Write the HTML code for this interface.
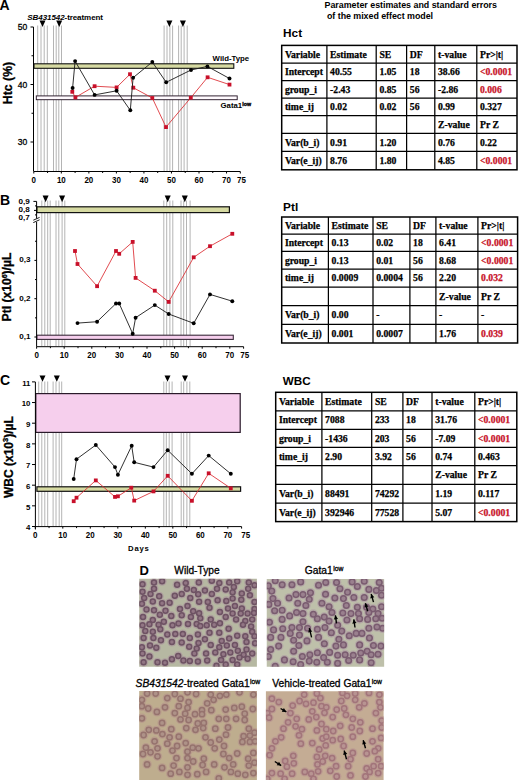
<!DOCTYPE html><html><head><meta charset="utf-8"><style>html,body{margin:0;padding:0;background:#fff;width:520px;height:780px;overflow:hidden}svg{display:block}</style></head><body>
<svg width="520" height="780" viewBox="0 0 520 780">
<defs><filter id="f" x="-5%" y="-5%" width="110%" height="110%"><feGaussianBlur stdDeviation="0.7"/></filter></defs>
<rect width="520" height="780" fill="#fff"/>
<text x="-0.5" y="9.6" font-size="14" font-weight="bold" text-anchor="start" fill="#000" font-family='"Liberation Sans", sans-serif' >A</text>
<text x="27.3" y="20.1" font-size="8.02" textLength="75.7" font-weight="bold" font-family='"Liberation Sans", sans-serif'><tspan font-style="italic">SB431542</tspan>-treatment</text>
<line x1="37.7" y1="25.5" x2="37.7" y2="171" stroke="#b4b4b4" stroke-width="1" />
<line x1="41.0" y1="25.5" x2="41.0" y2="171" stroke="#b4b4b4" stroke-width="1" />
<line x1="44.2" y1="25.5" x2="44.2" y2="171" stroke="#b4b4b4" stroke-width="1" />
<line x1="47.3" y1="25.5" x2="47.3" y2="171" stroke="#b4b4b4" stroke-width="1" />
<line x1="53.5" y1="25.5" x2="53.5" y2="171" stroke="#b4b4b4" stroke-width="1" />
<line x1="56.2" y1="25.5" x2="56.2" y2="171" stroke="#b4b4b4" stroke-width="1" />
<line x1="58.8" y1="25.5" x2="58.8" y2="171" stroke="#b4b4b4" stroke-width="1" />
<line x1="61.5" y1="25.5" x2="61.5" y2="171" stroke="#b4b4b4" stroke-width="1" />
<line x1="164.1" y1="25.5" x2="164.1" y2="171" stroke="#b4b4b4" stroke-width="1" />
<line x1="167.0" y1="25.5" x2="167.0" y2="171" stroke="#b4b4b4" stroke-width="1" />
<line x1="169.9" y1="25.5" x2="169.9" y2="171" stroke="#b4b4b4" stroke-width="1" />
<line x1="172.6" y1="25.5" x2="172.6" y2="171" stroke="#b4b4b4" stroke-width="1" />
<line x1="178.6" y1="25.5" x2="178.6" y2="171" stroke="#b4b4b4" stroke-width="1" />
<line x1="181.2" y1="25.5" x2="181.2" y2="171" stroke="#b4b4b4" stroke-width="1" />
<line x1="184.1" y1="25.5" x2="184.1" y2="171" stroke="#b4b4b4" stroke-width="1" />
<line x1="187.2" y1="25.5" x2="187.2" y2="171" stroke="#b4b4b4" stroke-width="1" />
<polygon points="39.5,20.4 45.5,20.4 42.5,27.0" fill="#000"/>
<polygon points="56.2,20.4 62.2,20.4 59.2,27.0" fill="#000"/>
<polygon points="166.4,20.4 172.4,20.4 169.4,27.0" fill="#000"/>
<polygon points="179.9,20.4 185.9,20.4 182.9,27.0" fill="#000"/>
<rect x="34" y="63.8" width="199.8" height="4.5" fill="#d6daa2" stroke="#111" stroke-width="1.1"/>
<rect x="36.3" y="95.9" width="200.89999999999998" height="3.799999999999997" fill="#fffafe" stroke="#2a1a2a" stroke-width="0.95"/>
<line x1="33.5" y1="27" x2="33.5" y2="171.5" stroke="#000" stroke-width="1" />
<line x1="30.5" y1="27.0" x2="33.5" y2="27.0" stroke="#000" stroke-width="1" />
<line x1="31.5" y1="55.75" x2="33.5" y2="55.75" stroke="#000" stroke-width="1" />
<line x1="30.5" y1="84.5" x2="33.5" y2="84.5" stroke="#000" stroke-width="1" />
<line x1="31.5" y1="113.25" x2="33.5" y2="113.25" stroke="#000" stroke-width="1" />
<line x1="30.5" y1="142.0" x2="33.5" y2="142.0" stroke="#000" stroke-width="1" />
<text transform="translate(27.2 30.00) scale(0.95 1)" font-size="9" text-anchor="end" font-family='"Liberation Sans", sans-serif' stroke="#000" stroke-width="0.3">50</text>
<text transform="translate(27.2 87.50) scale(0.95 1)" font-size="9" text-anchor="end" font-family='"Liberation Sans", sans-serif' stroke="#000" stroke-width="0.3">40</text>
<text transform="translate(27.2 145.00) scale(0.95 1)" font-size="9" text-anchor="end" font-family='"Liberation Sans", sans-serif' stroke="#000" stroke-width="0.3">30</text>
<line x1="33.8" y1="171.5" x2="240.3" y2="171.5" stroke="#000" stroke-width="1" />
<line x1="33.8" y1="171.5" x2="33.8" y2="173.5" stroke="#000" stroke-width="1" />
<line x1="47.56666666666666" y1="171.5" x2="47.56666666666666" y2="173.0" stroke="#000" stroke-width="1" />
<line x1="61.33333333333333" y1="171.5" x2="61.33333333333333" y2="173.5" stroke="#000" stroke-width="1" />
<line x1="75.1" y1="171.5" x2="75.1" y2="173.0" stroke="#000" stroke-width="1" />
<line x1="88.86666666666667" y1="171.5" x2="88.86666666666667" y2="173.5" stroke="#000" stroke-width="1" />
<line x1="102.63333333333333" y1="171.5" x2="102.63333333333333" y2="173.0" stroke="#000" stroke-width="1" />
<line x1="116.4" y1="171.5" x2="116.4" y2="173.5" stroke="#000" stroke-width="1" />
<line x1="130.16666666666669" y1="171.5" x2="130.16666666666669" y2="173.0" stroke="#000" stroke-width="1" />
<line x1="143.93333333333334" y1="171.5" x2="143.93333333333334" y2="173.5" stroke="#000" stroke-width="1" />
<line x1="157.7" y1="171.5" x2="157.7" y2="173.0" stroke="#000" stroke-width="1" />
<line x1="171.46666666666664" y1="171.5" x2="171.46666666666664" y2="173.5" stroke="#000" stroke-width="1" />
<line x1="185.23333333333335" y1="171.5" x2="185.23333333333335" y2="173.0" stroke="#000" stroke-width="1" />
<line x1="199.0" y1="171.5" x2="199.0" y2="173.5" stroke="#000" stroke-width="1" />
<line x1="212.76666666666665" y1="171.5" x2="212.76666666666665" y2="173.0" stroke="#000" stroke-width="1" />
<line x1="226.53333333333336" y1="171.5" x2="226.53333333333336" y2="173.5" stroke="#000" stroke-width="1" />
<line x1="240.3" y1="171.5" x2="240.3" y2="173.5" stroke="#000" stroke-width="1" />
<text transform="translate(33.80 182.8) scale(0.92 1)" font-size="8.7" font-weight="bold" text-anchor="middle" font-family='"Liberation Sans", sans-serif'>0</text>
<text transform="translate(61.33 182.8) scale(0.92 1)" font-size="8.7" font-weight="bold" text-anchor="middle" font-family='"Liberation Sans", sans-serif'>10</text>
<text transform="translate(88.87 182.8) scale(0.92 1)" font-size="8.7" font-weight="bold" text-anchor="middle" font-family='"Liberation Sans", sans-serif'>20</text>
<text transform="translate(116.40 182.8) scale(0.92 1)" font-size="8.7" font-weight="bold" text-anchor="middle" font-family='"Liberation Sans", sans-serif'>30</text>
<text transform="translate(143.93 182.8) scale(0.92 1)" font-size="8.7" font-weight="bold" text-anchor="middle" font-family='"Liberation Sans", sans-serif'>40</text>
<text transform="translate(171.47 182.8) scale(0.92 1)" font-size="8.7" font-weight="bold" text-anchor="middle" font-family='"Liberation Sans", sans-serif'>50</text>
<text transform="translate(199.00 182.8) scale(0.92 1)" font-size="8.7" font-weight="bold" text-anchor="middle" font-family='"Liberation Sans", sans-serif'>60</text>
<text transform="translate(226.53 182.8) scale(0.92 1)" font-size="8.7" font-weight="bold" text-anchor="middle" font-family='"Liberation Sans", sans-serif'>70</text>
<text transform="translate(241.50 183.20000000000002) scale(0.92 1)" font-size="8.7" font-weight="bold" text-anchor="middle" font-family='"Liberation Sans", sans-serif'>75</text>
<polyline points="72.3,91.8 75.4,97.4 94.6,86.2 116.6,87.4 130,74.2 133.3,87.7 152.3,98 166,127.1 190.8,97.7 207.6,77.3 229.5,84.6" fill="none" stroke="#dc2a30" stroke-width="0.85"/>
<rect x="70.40" y="89.90" width="3.8" height="3.8" fill="#c8102a"/>
<rect x="73.50" y="95.50" width="3.8" height="3.8" fill="#c8102a"/>
<rect x="92.70" y="84.30" width="3.8" height="3.8" fill="#c8102a"/>
<rect x="114.70" y="85.50" width="3.8" height="3.8" fill="#c8102a"/>
<rect x="128.10" y="72.30" width="3.8" height="3.8" fill="#c8102a"/>
<rect x="131.40" y="85.80" width="3.8" height="3.8" fill="#c8102a"/>
<rect x="150.40" y="96.10" width="3.8" height="3.8" fill="#c8102a"/>
<rect x="164.10" y="125.20" width="3.8" height="3.8" fill="#c8102a"/>
<rect x="188.90" y="95.80" width="3.8" height="3.8" fill="#c8102a"/>
<rect x="205.70" y="75.40" width="3.8" height="3.8" fill="#c8102a"/>
<rect x="227.60" y="82.70" width="3.8" height="3.8" fill="#c8102a"/>
<polyline points="72.6,88 75.1,61.1 94.6,94.9 116.6,90.8 130.3,110.3 133.1,77.7 152.3,62 166.2,82.3 191,70 207.4,66.4 229.5,78.5" fill="none" stroke="#1a1a1a" stroke-width="0.9"/>
<circle cx="72.6" cy="88" r="1.95" fill="#000"/>
<circle cx="75.1" cy="61.1" r="1.95" fill="#000"/>
<circle cx="94.6" cy="94.9" r="1.95" fill="#000"/>
<circle cx="116.6" cy="90.8" r="1.95" fill="#000"/>
<circle cx="130.3" cy="110.3" r="1.95" fill="#000"/>
<circle cx="133.1" cy="77.7" r="1.95" fill="#000"/>
<circle cx="152.3" cy="62" r="1.95" fill="#000"/>
<circle cx="166.2" cy="82.3" r="1.95" fill="#000"/>
<circle cx="191" cy="70" r="1.95" fill="#000"/>
<circle cx="207.4" cy="66.4" r="1.95" fill="#000"/>
<circle cx="229.5" cy="78.5" r="1.95" fill="#000"/>
<text x="212.6" y="61.1" font-size="7.8" font-weight="bold" text-anchor="start" fill="#000" font-family='"Liberation Sans", sans-serif' >Wild-Type</text>
<text x="220.5" y="107.5" font-size="7.8" font-weight="bold" font-family='"Liberation Sans", sans-serif'>Gata1<tspan font-size="5.3" dy="-1.8" dx="0.1" stroke="#000" stroke-width="0.35">low</tspan></text>
<text transform="translate(11.6,104.2) rotate(-90)" font-size="12.3" font-weight="bold" stroke="#000" stroke-width="0.3" font-family='"Liberation Sans", sans-serif'>Htc (%)</text>
<text x="0" y="204.8" font-size="14" font-weight="bold" text-anchor="start" fill="#000" font-family='"Liberation Sans", sans-serif' >B</text>
<line x1="41.8" y1="200.5" x2="41.8" y2="346" stroke="#b4b4b4" stroke-width="1" />
<line x1="44.8" y1="200.5" x2="44.8" y2="346" stroke="#b4b4b4" stroke-width="1" />
<line x1="47.7" y1="200.5" x2="47.7" y2="346" stroke="#b4b4b4" stroke-width="1" />
<line x1="50.2" y1="200.5" x2="50.2" y2="346" stroke="#b4b4b4" stroke-width="1" />
<line x1="56.0" y1="200.5" x2="56.0" y2="346" stroke="#b4b4b4" stroke-width="1" />
<line x1="58.8" y1="200.5" x2="58.8" y2="346" stroke="#b4b4b4" stroke-width="1" />
<line x1="62.1" y1="200.5" x2="62.1" y2="346" stroke="#b4b4b4" stroke-width="1" />
<line x1="64.8" y1="200.5" x2="64.8" y2="346" stroke="#b4b4b4" stroke-width="1" />
<line x1="163.8" y1="200.5" x2="163.8" y2="346" stroke="#b4b4b4" stroke-width="1" />
<line x1="166.7" y1="200.5" x2="166.7" y2="346" stroke="#b4b4b4" stroke-width="1" />
<line x1="169.9" y1="200.5" x2="169.9" y2="346" stroke="#b4b4b4" stroke-width="1" />
<line x1="172.8" y1="200.5" x2="172.8" y2="346" stroke="#b4b4b4" stroke-width="1" />
<line x1="181.0" y1="200.5" x2="181.0" y2="346" stroke="#b4b4b4" stroke-width="1" />
<line x1="183.7" y1="200.5" x2="183.7" y2="346" stroke="#b4b4b4" stroke-width="1" />
<line x1="186.5" y1="200.5" x2="186.5" y2="346" stroke="#b4b4b4" stroke-width="1" />
<line x1="190.1" y1="200.5" x2="190.1" y2="346" stroke="#b4b4b4" stroke-width="1" />
<polygon points="42.6,195.6 48.6,195.6 45.6,202.2" fill="#000"/>
<polygon points="59.1,195.6 65.1,195.6 62.1,202.2" fill="#000"/>
<polygon points="164.7,195.6 170.7,195.6 167.7,202.2" fill="#000"/>
<polygon points="181.8,195.6 187.8,195.6 184.8,202.2" fill="#000"/>
<rect x="36.9" y="206.8" width="192.5" height="5.799999999999983" fill="#d6daa2" stroke="#111" stroke-width="1.2"/>
<rect x="36.9" y="335.2" width="196.4" height="4.199999999999989" fill="#f6cfed" stroke="#3a2a3a" stroke-width="1.1"/>
<line x1="36.6" y1="201.4" x2="36.6" y2="218.5" stroke="#000" stroke-width="1" />
<line x1="36.6" y1="222" x2="36.6" y2="346.7" stroke="#000" stroke-width="1" />
<line x1="33.3" y1="220.2" x2="39.6" y2="217.4" stroke="#000" stroke-width="0.9" />
<line x1="33.3" y1="222.6" x2="39.6" y2="219.8" stroke="#000" stroke-width="0.9" />
<line x1="33.4" y1="201.4" x2="36.6" y2="201.4" stroke="#000" stroke-width="1" />
<line x1="34.0" y1="210.4" x2="36.6" y2="210.4" stroke="#000" stroke-width="1" />
<line x1="35.0" y1="205.9" x2="36.6" y2="205.9" stroke="#000" stroke-width="1" />
<line x1="35.0" y1="214.9" x2="36.6" y2="214.9" stroke="#000" stroke-width="1" />
<text x="18.6" y="203.5" font-size="6.9" font-weight="bold" font-family='"Liberation Sans", sans-serif' textLength="11.3" lengthAdjust="spacingAndGlyphs">0,9</text>
<text x="18.6" y="211.7" font-size="6.9" font-weight="bold" font-family='"Liberation Sans", sans-serif' textLength="11.3" lengthAdjust="spacingAndGlyphs">0,8</text>
<text x="18.6" y="220.2" font-size="6.9" font-weight="bold" font-family='"Liberation Sans", sans-serif' textLength="11.3" lengthAdjust="spacingAndGlyphs">0,7</text>
<line x1="35.0" y1="241.25" x2="36.6" y2="241.25" stroke="#000" stroke-width="1" />
<line x1="34.4" y1="260.4" x2="36.6" y2="260.4" stroke="#000" stroke-width="1" />
<line x1="35.0" y1="279.55" x2="36.6" y2="279.55" stroke="#000" stroke-width="1" />
<line x1="34.4" y1="298.7" x2="36.6" y2="298.7" stroke="#000" stroke-width="1" />
<line x1="35.0" y1="317.85" x2="36.6" y2="317.85" stroke="#000" stroke-width="1" />
<line x1="34.4" y1="337.0" x2="36.6" y2="337.0" stroke="#000" stroke-width="1" />
<text x="30.4" y="262.2" font-size="8.1" font-weight="bold" text-anchor="end" fill="#000" font-family='"Liberation Sans", sans-serif' >0,3</text>
<text x="30.4" y="300.5" font-size="8.1" font-weight="bold" text-anchor="end" fill="#000" font-family='"Liberation Sans", sans-serif' >0,2</text>
<text x="30.4" y="338.8" font-size="8.1" font-weight="bold" text-anchor="end" fill="#000" font-family='"Liberation Sans", sans-serif' >0,1</text>
<line x1="36.6" y1="346.7" x2="243.6" y2="346.7" stroke="#000" stroke-width="1" />
<line x1="36.6" y1="346.7" x2="36.6" y2="348.7" stroke="#000" stroke-width="1" />
<line x1="50.4" y1="346.7" x2="50.4" y2="348.2" stroke="#000" stroke-width="1" />
<line x1="64.2" y1="346.7" x2="64.2" y2="348.7" stroke="#000" stroke-width="1" />
<line x1="78.0" y1="346.7" x2="78.0" y2="348.2" stroke="#000" stroke-width="1" />
<line x1="91.8" y1="346.7" x2="91.8" y2="348.7" stroke="#000" stroke-width="1" />
<line x1="105.6" y1="346.7" x2="105.6" y2="348.2" stroke="#000" stroke-width="1" />
<line x1="119.4" y1="346.7" x2="119.4" y2="348.7" stroke="#000" stroke-width="1" />
<line x1="133.2" y1="346.7" x2="133.2" y2="348.2" stroke="#000" stroke-width="1" />
<line x1="147.0" y1="346.7" x2="147.0" y2="348.7" stroke="#000" stroke-width="1" />
<line x1="160.79999999999998" y1="346.7" x2="160.79999999999998" y2="348.2" stroke="#000" stroke-width="1" />
<line x1="174.6" y1="346.7" x2="174.6" y2="348.7" stroke="#000" stroke-width="1" />
<line x1="188.39999999999998" y1="346.7" x2="188.39999999999998" y2="348.2" stroke="#000" stroke-width="1" />
<line x1="202.2" y1="346.7" x2="202.2" y2="348.7" stroke="#000" stroke-width="1" />
<line x1="215.99999999999997" y1="346.7" x2="215.99999999999997" y2="348.2" stroke="#000" stroke-width="1" />
<line x1="229.79999999999998" y1="346.7" x2="229.79999999999998" y2="348.7" stroke="#000" stroke-width="1" />
<line x1="243.59999999999997" y1="346.7" x2="243.59999999999997" y2="348.7" stroke="#000" stroke-width="1" />
<text transform="translate(36.60 358.0) scale(0.92 1)" font-size="8.7" font-weight="bold" text-anchor="middle" font-family='"Liberation Sans", sans-serif'>0</text>
<text transform="translate(64.20 358.0) scale(0.92 1)" font-size="8.7" font-weight="bold" text-anchor="middle" font-family='"Liberation Sans", sans-serif'>10</text>
<text transform="translate(91.80 358.0) scale(0.92 1)" font-size="8.7" font-weight="bold" text-anchor="middle" font-family='"Liberation Sans", sans-serif'>20</text>
<text transform="translate(119.40 358.0) scale(0.92 1)" font-size="8.7" font-weight="bold" text-anchor="middle" font-family='"Liberation Sans", sans-serif'>30</text>
<text transform="translate(147.00 358.0) scale(0.92 1)" font-size="8.7" font-weight="bold" text-anchor="middle" font-family='"Liberation Sans", sans-serif'>40</text>
<text transform="translate(174.60 358.0) scale(0.92 1)" font-size="8.7" font-weight="bold" text-anchor="middle" font-family='"Liberation Sans", sans-serif'>50</text>
<text transform="translate(202.20 358.0) scale(0.92 1)" font-size="8.7" font-weight="bold" text-anchor="middle" font-family='"Liberation Sans", sans-serif'>60</text>
<text transform="translate(229.80 358.0) scale(0.92 1)" font-size="8.7" font-weight="bold" text-anchor="middle" font-family='"Liberation Sans", sans-serif'>70</text>
<text transform="translate(244.80 358.4) scale(0.92 1)" font-size="8.7" font-weight="bold" text-anchor="middle" font-family='"Liberation Sans", sans-serif'>75</text>
<polyline points="75,251 77.5,264 97.1,286.2 116,251 119.2,253.8 132.7,241.9 135.6,277.9 154.8,290.7 168.7,301.9 193.7,257.3 210,246.2 232.3,233.8" fill="none" stroke="#dc2a30" stroke-width="0.85"/>
<rect x="73.10" y="249.10" width="3.8" height="3.8" fill="#c8102a"/>
<rect x="75.60" y="262.10" width="3.8" height="3.8" fill="#c8102a"/>
<rect x="95.20" y="284.30" width="3.8" height="3.8" fill="#c8102a"/>
<rect x="114.10" y="249.10" width="3.8" height="3.8" fill="#c8102a"/>
<rect x="117.30" y="251.90" width="3.8" height="3.8" fill="#c8102a"/>
<rect x="130.80" y="240.00" width="3.8" height="3.8" fill="#c8102a"/>
<rect x="133.70" y="276.00" width="3.8" height="3.8" fill="#c8102a"/>
<rect x="152.90" y="288.80" width="3.8" height="3.8" fill="#c8102a"/>
<rect x="166.80" y="300.00" width="3.8" height="3.8" fill="#c8102a"/>
<rect x="191.80" y="255.40" width="3.8" height="3.8" fill="#c8102a"/>
<rect x="208.10" y="244.30" width="3.8" height="3.8" fill="#c8102a"/>
<rect x="230.40" y="231.90" width="3.8" height="3.8" fill="#c8102a"/>
<polyline points="77.5,323.1 97.1,321.7 116,303.5 119.2,303.5 132.7,333.7 135.6,317.7 154.8,305.1 168.7,314 193.7,323.3 210,294.4 232.3,301.2" fill="none" stroke="#1a1a1a" stroke-width="0.9"/>
<circle cx="77.5" cy="323.1" r="1.95" fill="#000"/>
<circle cx="97.1" cy="321.7" r="1.95" fill="#000"/>
<circle cx="116" cy="303.5" r="1.95" fill="#000"/>
<circle cx="119.2" cy="303.5" r="1.95" fill="#000"/>
<circle cx="132.7" cy="333.7" r="1.95" fill="#000"/>
<circle cx="135.6" cy="317.7" r="1.95" fill="#000"/>
<circle cx="154.8" cy="305.1" r="1.95" fill="#000"/>
<circle cx="168.7" cy="314" r="1.95" fill="#000"/>
<circle cx="193.7" cy="323.3" r="1.95" fill="#000"/>
<circle cx="210" cy="294.4" r="1.95" fill="#000"/>
<circle cx="232.3" cy="301.2" r="1.95" fill="#000"/>
<text transform="translate(11.2,321.4) rotate(-90)" font-size="12.1" font-weight="bold" stroke="#000" stroke-width="0.3" font-family='"Liberation Sans", sans-serif'>Ptl (x10<tspan font-size="7" dy="-4">6</tspan><tspan dy="4">)/µL</tspan></text>
<text x="0" y="385" font-size="14" font-weight="bold" text-anchor="start" fill="#000" font-family='"Liberation Sans", sans-serif' >C</text>
<line x1="38.7" y1="381.5" x2="38.7" y2="526.5" stroke="#b4b4b4" stroke-width="1" />
<line x1="41.8" y1="381.5" x2="41.8" y2="526.5" stroke="#b4b4b4" stroke-width="1" />
<line x1="44.8" y1="381.5" x2="44.8" y2="526.5" stroke="#b4b4b4" stroke-width="1" />
<line x1="47.7" y1="381.5" x2="47.7" y2="526.5" stroke="#b4b4b4" stroke-width="1" />
<line x1="53.1" y1="381.5" x2="53.1" y2="526.5" stroke="#b4b4b4" stroke-width="1" />
<line x1="56.0" y1="381.5" x2="56.0" y2="526.5" stroke="#b4b4b4" stroke-width="1" />
<line x1="59.2" y1="381.5" x2="59.2" y2="526.5" stroke="#b4b4b4" stroke-width="1" />
<line x1="61.7" y1="381.5" x2="61.7" y2="526.5" stroke="#b4b4b4" stroke-width="1" />
<line x1="163.8" y1="381.5" x2="163.8" y2="526.5" stroke="#b4b4b4" stroke-width="1" />
<line x1="166.3" y1="381.5" x2="166.3" y2="526.5" stroke="#b4b4b4" stroke-width="1" />
<line x1="169.2" y1="381.5" x2="169.2" y2="526.5" stroke="#b4b4b4" stroke-width="1" />
<line x1="172.1" y1="381.5" x2="172.1" y2="526.5" stroke="#b4b4b4" stroke-width="1" />
<line x1="181.2" y1="381.5" x2="181.2" y2="526.5" stroke="#b4b4b4" stroke-width="1" />
<line x1="183.7" y1="381.5" x2="183.7" y2="526.5" stroke="#b4b4b4" stroke-width="1" />
<line x1="186.9" y1="381.5" x2="186.9" y2="526.5" stroke="#b4b4b4" stroke-width="1" />
<line x1="189.8" y1="381.5" x2="189.8" y2="526.5" stroke="#b4b4b4" stroke-width="1" />
<polygon points="39.5,375.4 45.5,375.4 42.5,381.8" fill="#000"/>
<polygon points="53.8,375.4 59.8,375.4 56.8,381.8" fill="#000"/>
<polygon points="164.5,375.4 170.5,375.4 167.5,381.8" fill="#000"/>
<polygon points="182.0,375.4 188.0,375.4 185.0,381.8" fill="#000"/>
<rect x="35.8" y="393.6" width="204.39999999999998" height="38.799999999999955" fill="#f6cfed" stroke="#2a1a2a" stroke-width="1.2"/>
<rect x="36.9" y="486.8" width="203.7" height="4.5" fill="#d6daa2" stroke="#111" stroke-width="1.2"/>
<line x1="35.4" y1="382" x2="35.4" y2="529.5" stroke="#000" stroke-width="1" />
<line x1="32.0" y1="381.88" x2="35.4" y2="381.88" stroke="#000" stroke-width="1" />
<text x="30.4" y="385.58" font-size="7.8" font-weight="bold" text-anchor="end" fill="#000" font-family='"Liberation Sans", sans-serif' >11</text>
<line x1="32.0" y1="402.53999999999996" x2="35.4" y2="402.53999999999996" stroke="#000" stroke-width="1" />
<text x="30.4" y="406.23999999999995" font-size="7.8" font-weight="bold" text-anchor="end" fill="#000" font-family='"Liberation Sans", sans-serif' >10</text>
<line x1="32.0" y1="423.2" x2="35.4" y2="423.2" stroke="#000" stroke-width="1" />
<text x="30.4" y="426.9" font-size="7.8" font-weight="bold" text-anchor="end" fill="#000" font-family='"Liberation Sans", sans-serif' >9</text>
<line x1="32.0" y1="443.86" x2="35.4" y2="443.86" stroke="#000" stroke-width="1" />
<text x="30.4" y="447.56" font-size="7.8" font-weight="bold" text-anchor="end" fill="#000" font-family='"Liberation Sans", sans-serif' >8</text>
<line x1="32.0" y1="464.52" x2="35.4" y2="464.52" stroke="#000" stroke-width="1" />
<text x="30.4" y="468.21999999999997" font-size="7.8" font-weight="bold" text-anchor="end" fill="#000" font-family='"Liberation Sans", sans-serif' >7</text>
<line x1="32.0" y1="485.18" x2="35.4" y2="485.18" stroke="#000" stroke-width="1" />
<text x="30.4" y="488.88" font-size="7.8" font-weight="bold" text-anchor="end" fill="#000" font-family='"Liberation Sans", sans-serif' >6</text>
<line x1="32.0" y1="505.84" x2="35.4" y2="505.84" stroke="#000" stroke-width="1" />
<text x="30.4" y="509.53999999999996" font-size="7.8" font-weight="bold" text-anchor="end" fill="#000" font-family='"Liberation Sans", sans-serif' >5</text>
<line x1="32.0" y1="526.5" x2="35.4" y2="526.5" stroke="#000" stroke-width="1" />
<text x="30.4" y="530.2" font-size="7.8" font-weight="bold" text-anchor="end" fill="#000" font-family='"Liberation Sans", sans-serif' >4</text>
<line x1="35.3" y1="526.6" x2="241.6" y2="526.6" stroke="#000" stroke-width="1" />
<line x1="35.3" y1="526.6" x2="35.3" y2="528.6" stroke="#000" stroke-width="1" />
<line x1="49.053333333333335" y1="526.6" x2="49.053333333333335" y2="528.1" stroke="#000" stroke-width="1" />
<line x1="62.80666666666667" y1="526.6" x2="62.80666666666667" y2="528.6" stroke="#000" stroke-width="1" />
<line x1="76.56" y1="526.6" x2="76.56" y2="528.1" stroke="#000" stroke-width="1" />
<line x1="90.31333333333333" y1="526.6" x2="90.31333333333333" y2="528.6" stroke="#000" stroke-width="1" />
<line x1="104.06666666666668" y1="526.6" x2="104.06666666666668" y2="528.1" stroke="#000" stroke-width="1" />
<line x1="117.82000000000001" y1="526.6" x2="117.82000000000001" y2="528.6" stroke="#000" stroke-width="1" />
<line x1="131.57333333333332" y1="526.6" x2="131.57333333333332" y2="528.1" stroke="#000" stroke-width="1" />
<line x1="145.32666666666668" y1="526.6" x2="145.32666666666668" y2="528.6" stroke="#000" stroke-width="1" />
<line x1="159.08" y1="526.6" x2="159.08" y2="528.1" stroke="#000" stroke-width="1" />
<line x1="172.83333333333337" y1="526.6" x2="172.83333333333337" y2="528.6" stroke="#000" stroke-width="1" />
<line x1="186.5866666666667" y1="526.6" x2="186.5866666666667" y2="528.1" stroke="#000" stroke-width="1" />
<line x1="200.34000000000003" y1="526.6" x2="200.34000000000003" y2="528.6" stroke="#000" stroke-width="1" />
<line x1="214.09333333333336" y1="526.6" x2="214.09333333333336" y2="528.1" stroke="#000" stroke-width="1" />
<line x1="227.8466666666667" y1="526.6" x2="227.8466666666667" y2="528.6" stroke="#000" stroke-width="1" />
<line x1="241.60000000000002" y1="526.6" x2="241.60000000000002" y2="528.6" stroke="#000" stroke-width="1" />
<text transform="translate(35.30 537.8) scale(0.92 1)" font-size="8.7" font-weight="bold" text-anchor="middle" font-family='"Liberation Sans", sans-serif'>0</text>
<text transform="translate(62.81 537.8) scale(0.92 1)" font-size="8.7" font-weight="bold" text-anchor="middle" font-family='"Liberation Sans", sans-serif'>10</text>
<text transform="translate(90.31 537.8) scale(0.92 1)" font-size="8.7" font-weight="bold" text-anchor="middle" font-family='"Liberation Sans", sans-serif'>20</text>
<text transform="translate(117.82 537.8) scale(0.92 1)" font-size="8.7" font-weight="bold" text-anchor="middle" font-family='"Liberation Sans", sans-serif'>30</text>
<text transform="translate(145.33 537.8) scale(0.92 1)" font-size="8.7" font-weight="bold" text-anchor="middle" font-family='"Liberation Sans", sans-serif'>40</text>
<text transform="translate(172.83 537.8) scale(0.92 1)" font-size="8.7" font-weight="bold" text-anchor="middle" font-family='"Liberation Sans", sans-serif'>50</text>
<text transform="translate(200.34 537.8) scale(0.92 1)" font-size="8.7" font-weight="bold" text-anchor="middle" font-family='"Liberation Sans", sans-serif'>60</text>
<text transform="translate(227.85 537.8) scale(0.92 1)" font-size="8.7" font-weight="bold" text-anchor="middle" font-family='"Liberation Sans", sans-serif'>70</text>
<text transform="translate(245.80 538.1999999999999) scale(0.92 1)" font-size="8.7" font-weight="bold" text-anchor="middle" font-family='"Liberation Sans", sans-serif'>75</text>
<text x="128.1" y="550.9" font-size="7.7" font-weight="bold" font-family='"Liberation Sans", sans-serif' textLength="20.6">Days</text>
<polyline points="73.7,501.2 76.5,497.7 95.8,480.4 115,496.9 117.9,496.3 131.3,487.7 134.2,500.6 153.5,491.4 167.7,475.8 191.9,500.8 208.7,473.3 230.8,488.3" fill="none" stroke="#dc2a30" stroke-width="0.85"/>
<rect x="71.80" y="499.30" width="3.8" height="3.8" fill="#c8102a"/>
<rect x="74.60" y="495.80" width="3.8" height="3.8" fill="#c8102a"/>
<rect x="93.90" y="478.50" width="3.8" height="3.8" fill="#c8102a"/>
<rect x="113.10" y="495.00" width="3.8" height="3.8" fill="#c8102a"/>
<rect x="116.00" y="494.40" width="3.8" height="3.8" fill="#c8102a"/>
<rect x="129.40" y="485.80" width="3.8" height="3.8" fill="#c8102a"/>
<rect x="132.30" y="498.70" width="3.8" height="3.8" fill="#c8102a"/>
<rect x="151.60" y="489.50" width="3.8" height="3.8" fill="#c8102a"/>
<rect x="165.80" y="473.90" width="3.8" height="3.8" fill="#c8102a"/>
<rect x="190.00" y="498.90" width="3.8" height="3.8" fill="#c8102a"/>
<rect x="206.80" y="471.40" width="3.8" height="3.8" fill="#c8102a"/>
<rect x="228.90" y="486.40" width="3.8" height="3.8" fill="#c8102a"/>
<polyline points="73.7,479 76.5,459.2 95.8,445 115,467.1 117.9,474.8 131.7,445.8 134.2,462.3 153.5,467.1 167.7,450.2 191.9,473.8 208.7,455.6 230.8,473.8" fill="none" stroke="#1a1a1a" stroke-width="0.9"/>
<circle cx="73.7" cy="479" r="1.95" fill="#000"/>
<circle cx="76.5" cy="459.2" r="1.95" fill="#000"/>
<circle cx="95.8" cy="445" r="1.95" fill="#000"/>
<circle cx="115" cy="467.1" r="1.95" fill="#000"/>
<circle cx="117.9" cy="474.8" r="1.95" fill="#000"/>
<circle cx="131.7" cy="445.8" r="1.95" fill="#000"/>
<circle cx="134.2" cy="462.3" r="1.95" fill="#000"/>
<circle cx="153.5" cy="467.1" r="1.95" fill="#000"/>
<circle cx="167.7" cy="450.2" r="1.95" fill="#000"/>
<circle cx="191.9" cy="473.8" r="1.95" fill="#000"/>
<circle cx="208.7" cy="455.6" r="1.95" fill="#000"/>
<circle cx="230.8" cy="473.8" r="1.95" fill="#000"/>
<text transform="translate(12.8,498) rotate(-90)" font-size="12" font-weight="bold" stroke="#000" stroke-width="0.3" font-family='"Liberation Sans", sans-serif'>WBC (x10<tspan font-size="7.5" dy="-4.5">3</tspan><tspan dy="4.5">)/µL</tspan></text>
<text x="324.5" y="7.6" font-size="8.9" textLength="172.5" font-weight="bold" font-family='"Liberation Sans", sans-serif'>Parameter estimates and standard errors</text>
<text x="327" y="18.8" font-size="8.9" textLength="106" font-weight="bold" font-family='"Liberation Sans", sans-serif'>of the mixed effect model</text>
<text x="283.1" y="36.7" font-size="11.8" font-weight="bold" text-anchor="start" fill="#000" font-family='"Liberation Sans", sans-serif' >Hct</text>
<rect x="281.7" y="45.4" width="235.3" height="124.4" fill="none" stroke="#000" stroke-width="1.5"/>
<line x1="326.9" y1="45.4" x2="326.9" y2="169.8" stroke="#000" stroke-width="1.25" />
<line x1="376.2" y1="45.4" x2="376.2" y2="169.8" stroke="#000" stroke-width="1.25" />
<line x1="406.6" y1="45.4" x2="406.6" y2="169.8" stroke="#000" stroke-width="1.25" />
<line x1="434.8" y1="45.4" x2="434.8" y2="169.8" stroke="#000" stroke-width="1.25" />
<line x1="476.8" y1="45.4" x2="476.8" y2="169.8" stroke="#000" stroke-width="1.25" />
<line x1="281.7" y1="63.0" x2="517.0" y2="63.0" stroke="#000" stroke-width="1.25" />
<line x1="281.7" y1="80.6" x2="517.0" y2="80.6" stroke="#000" stroke-width="1.25" />
<line x1="281.7" y1="98.0" x2="517.0" y2="98.0" stroke="#000" stroke-width="1.25" />
<line x1="281.7" y1="115.6" x2="517.0" y2="115.6" stroke="#000" stroke-width="1.25" />
<line x1="281.7" y1="133.4" x2="517.0" y2="133.4" stroke="#000" stroke-width="1.25" />
<line x1="281.7" y1="151.4" x2="517.0" y2="151.4" stroke="#000" stroke-width="1.25" />
<text x="284.9" y="57.6" font-size="9.7" font-weight="bold" text-anchor="start" fill="#000" font-family='"Liberation Serif", serif' stroke="#000" stroke-width="0.25">Variable</text>
<text x="330.1" y="57.6" font-size="9.7" font-weight="bold" text-anchor="start" fill="#000" font-family='"Liberation Serif", serif' stroke="#000" stroke-width="0.25">Estimate</text>
<text x="379.4" y="57.6" font-size="9.7" font-weight="bold" text-anchor="start" fill="#000" font-family='"Liberation Serif", serif' stroke="#000" stroke-width="0.25">SE</text>
<text x="409.8" y="57.6" font-size="9.7" font-weight="bold" text-anchor="start" fill="#000" font-family='"Liberation Serif", serif' stroke="#000" stroke-width="0.25">DF</text>
<text x="438.0" y="57.6" font-size="9.7" font-weight="bold" text-anchor="start" fill="#000" font-family='"Liberation Serif", serif' stroke="#000" stroke-width="0.25">t-value</text>
<text x="480.0" y="57.6" font-size="9.7" font-weight="bold" text-anchor="start" fill="#000" font-family='"Liberation Serif", serif' stroke="#000" stroke-width="0.25">Pr&gt;|t|</text>
<text x="284.9" y="75.2" font-size="9.7" font-weight="bold" text-anchor="start" fill="#000" font-family='"Liberation Serif", serif' stroke="#000" stroke-width="0.25">Intercept</text>
<text x="330.1" y="75.2" font-size="9.7" font-weight="bold" text-anchor="start" fill="#000" font-family='"Liberation Serif", serif' stroke="#000" stroke-width="0.25">40.55</text>
<text x="379.4" y="75.2" font-size="9.7" font-weight="bold" text-anchor="start" fill="#000" font-family='"Liberation Serif", serif' stroke="#000" stroke-width="0.25">1.05</text>
<text x="409.8" y="75.2" font-size="9.7" font-weight="bold" text-anchor="start" fill="#000" font-family='"Liberation Serif", serif' stroke="#000" stroke-width="0.25">18</text>
<text x="438.0" y="75.2" font-size="9.7" font-weight="bold" text-anchor="start" fill="#000" font-family='"Liberation Serif", serif' stroke="#000" stroke-width="0.25">38.66</text>
<text x="480.0" y="75.2" font-size="9.7" font-weight="bold" text-anchor="start" fill="#c8142a" font-family='"Liberation Serif", serif' stroke="#c8142a" stroke-width="0.25">&lt;0.0001</text>
<text x="284.9" y="92.7" font-size="9.7" font-weight="bold" text-anchor="start" fill="#000" font-family='"Liberation Serif", serif' stroke="#000" stroke-width="0.25">group_i</text>
<text x="330.1" y="92.7" font-size="9.7" font-weight="bold" text-anchor="start" fill="#000" font-family='"Liberation Serif", serif' stroke="#000" stroke-width="0.25">-2.43</text>
<text x="379.4" y="92.7" font-size="9.7" font-weight="bold" text-anchor="start" fill="#000" font-family='"Liberation Serif", serif' stroke="#000" stroke-width="0.25">0.85</text>
<text x="409.8" y="92.7" font-size="9.7" font-weight="bold" text-anchor="start" fill="#000" font-family='"Liberation Serif", serif' stroke="#000" stroke-width="0.25">56</text>
<text x="438.0" y="92.7" font-size="9.7" font-weight="bold" text-anchor="start" fill="#000" font-family='"Liberation Serif", serif' stroke="#000" stroke-width="0.25">-2.86</text>
<text x="480.0" y="92.7" font-size="9.7" font-weight="bold" text-anchor="start" fill="#c8142a" font-family='"Liberation Serif", serif' stroke="#c8142a" stroke-width="0.25">0.006</text>
<text x="284.9" y="110.2" font-size="9.7" font-weight="bold" text-anchor="start" fill="#000" font-family='"Liberation Serif", serif' stroke="#000" stroke-width="0.25">time_ij</text>
<text x="330.1" y="110.2" font-size="9.7" font-weight="bold" text-anchor="start" fill="#000" font-family='"Liberation Serif", serif' stroke="#000" stroke-width="0.25">0.02</text>
<text x="379.4" y="110.2" font-size="9.7" font-weight="bold" text-anchor="start" fill="#000" font-family='"Liberation Serif", serif' stroke="#000" stroke-width="0.25">0.02</text>
<text x="409.8" y="110.2" font-size="9.7" font-weight="bold" text-anchor="start" fill="#000" font-family='"Liberation Serif", serif' stroke="#000" stroke-width="0.25">56</text>
<text x="438.0" y="110.2" font-size="9.7" font-weight="bold" text-anchor="start" fill="#000" font-family='"Liberation Serif", serif' stroke="#000" stroke-width="0.25">0.99</text>
<text x="480.0" y="110.2" font-size="9.7" font-weight="bold" text-anchor="start" fill="#000" font-family='"Liberation Serif", serif' stroke="#000" stroke-width="0.25">0.327</text>
<text x="438.0" y="127.9" font-size="9.7" font-weight="bold" text-anchor="start" fill="#000" font-family='"Liberation Serif", serif' stroke="#000" stroke-width="0.25">Z-value</text>
<text x="480.0" y="127.9" font-size="9.7" font-weight="bold" text-anchor="start" fill="#000" font-family='"Liberation Serif", serif' stroke="#000" stroke-width="0.25">Pr Z</text>
<text x="284.9" y="145.8" font-size="9.7" font-weight="bold" text-anchor="start" fill="#000" font-family='"Liberation Serif", serif' stroke="#000" stroke-width="0.25">Var(b_i)</text>
<text x="330.1" y="145.8" font-size="9.7" font-weight="bold" text-anchor="start" fill="#000" font-family='"Liberation Serif", serif' stroke="#000" stroke-width="0.25">0.91</text>
<text x="379.4" y="145.8" font-size="9.7" font-weight="bold" text-anchor="start" fill="#000" font-family='"Liberation Serif", serif' stroke="#000" stroke-width="0.25">1.20</text>
<text x="438.0" y="145.8" font-size="9.7" font-weight="bold" text-anchor="start" fill="#000" font-family='"Liberation Serif", serif' stroke="#000" stroke-width="0.25">0.76</text>
<text x="480.0" y="145.8" font-size="9.7" font-weight="bold" text-anchor="start" fill="#000" font-family='"Liberation Serif", serif' stroke="#000" stroke-width="0.25">0.22</text>
<text x="284.9" y="164.0" font-size="9.7" font-weight="bold" text-anchor="start" fill="#000" font-family='"Liberation Serif", serif' stroke="#000" stroke-width="0.25">Var(e_ij)</text>
<text x="330.1" y="164.0" font-size="9.7" font-weight="bold" text-anchor="start" fill="#000" font-family='"Liberation Serif", serif' stroke="#000" stroke-width="0.25">8.76</text>
<text x="379.4" y="164.0" font-size="9.7" font-weight="bold" text-anchor="start" fill="#000" font-family='"Liberation Serif", serif' stroke="#000" stroke-width="0.25">1.80</text>
<text x="438.0" y="164.0" font-size="9.7" font-weight="bold" text-anchor="start" fill="#000" font-family='"Liberation Serif", serif' stroke="#000" stroke-width="0.25">4.85</text>
<text x="480.0" y="164.0" font-size="9.7" font-weight="bold" text-anchor="start" fill="#c8142a" font-family='"Liberation Serif", serif' stroke="#c8142a" stroke-width="0.25">&lt;0.0001</text>
<text x="283.1" y="210.6" font-size="11.8" font-weight="bold" text-anchor="start" fill="#000" font-family='"Liberation Sans", sans-serif' >Ptl</text>
<rect x="281.7" y="217.0" width="235.90000000000003" height="126.0" fill="none" stroke="#000" stroke-width="1.5"/>
<line x1="328.4" y1="217.0" x2="328.4" y2="343.0" stroke="#000" stroke-width="1.25" />
<line x1="373.0" y1="217.0" x2="373.0" y2="343.0" stroke="#000" stroke-width="1.25" />
<line x1="409.9" y1="217.0" x2="409.9" y2="343.0" stroke="#000" stroke-width="1.25" />
<line x1="435.9" y1="217.0" x2="435.9" y2="343.0" stroke="#000" stroke-width="1.25" />
<line x1="477.9" y1="217.0" x2="477.9" y2="343.0" stroke="#000" stroke-width="1.25" />
<line x1="281.7" y1="234.0" x2="517.6" y2="234.0" stroke="#000" stroke-width="1.25" />
<line x1="281.7" y1="251.3" x2="517.6" y2="251.3" stroke="#000" stroke-width="1.25" />
<line x1="281.7" y1="269.0" x2="517.6" y2="269.0" stroke="#000" stroke-width="1.25" />
<line x1="281.7" y1="287.0" x2="517.6" y2="287.0" stroke="#000" stroke-width="1.25" />
<line x1="281.7" y1="305.6" x2="517.6" y2="305.6" stroke="#000" stroke-width="1.25" />
<line x1="281.7" y1="324.4" x2="517.6" y2="324.4" stroke="#000" stroke-width="1.25" />
<text x="284.9" y="228.9" font-size="9.7" font-weight="bold" text-anchor="start" fill="#000" font-family='"Liberation Serif", serif' stroke="#000" stroke-width="0.25">Variable</text>
<text x="331.6" y="228.9" font-size="9.7" font-weight="bold" text-anchor="start" fill="#000" font-family='"Liberation Serif", serif' stroke="#000" stroke-width="0.25">Estimate</text>
<text x="376.2" y="228.9" font-size="9.7" font-weight="bold" text-anchor="start" fill="#000" font-family='"Liberation Serif", serif' stroke="#000" stroke-width="0.25">SE</text>
<text x="413.1" y="228.9" font-size="9.7" font-weight="bold" text-anchor="start" fill="#000" font-family='"Liberation Serif", serif' stroke="#000" stroke-width="0.25">DF</text>
<text x="439.1" y="228.9" font-size="9.7" font-weight="bold" text-anchor="start" fill="#000" font-family='"Liberation Serif", serif' stroke="#000" stroke-width="0.25">t-value</text>
<text x="481.1" y="228.9" font-size="9.7" font-weight="bold" text-anchor="start" fill="#000" font-family='"Liberation Serif", serif' stroke="#000" stroke-width="0.25">Pr&gt;|t|</text>
<text x="284.9" y="246.05" font-size="9.7" font-weight="bold" text-anchor="start" fill="#000" font-family='"Liberation Serif", serif' stroke="#000" stroke-width="0.25">Intercept</text>
<text x="331.6" y="246.05" font-size="9.7" font-weight="bold" text-anchor="start" fill="#000" font-family='"Liberation Serif", serif' stroke="#000" stroke-width="0.25">0.13</text>
<text x="376.2" y="246.05" font-size="9.7" font-weight="bold" text-anchor="start" fill="#000" font-family='"Liberation Serif", serif' stroke="#000" stroke-width="0.25">0.02</text>
<text x="413.1" y="246.05" font-size="9.7" font-weight="bold" text-anchor="start" fill="#000" font-family='"Liberation Serif", serif' stroke="#000" stroke-width="0.25">18</text>
<text x="439.1" y="246.05" font-size="9.7" font-weight="bold" text-anchor="start" fill="#000" font-family='"Liberation Serif", serif' stroke="#000" stroke-width="0.25">6.41</text>
<text x="481.1" y="246.05" font-size="9.7" font-weight="bold" text-anchor="start" fill="#c8142a" font-family='"Liberation Serif", serif' stroke="#c8142a" stroke-width="0.25">&lt;0.0001</text>
<text x="284.9" y="263.55" font-size="9.7" font-weight="bold" text-anchor="start" fill="#000" font-family='"Liberation Serif", serif' stroke="#000" stroke-width="0.25">group_i</text>
<text x="331.6" y="263.55" font-size="9.7" font-weight="bold" text-anchor="start" fill="#000" font-family='"Liberation Serif", serif' stroke="#000" stroke-width="0.25">0.13</text>
<text x="376.2" y="263.55" font-size="9.7" font-weight="bold" text-anchor="start" fill="#000" font-family='"Liberation Serif", serif' stroke="#000" stroke-width="0.25">0.01</text>
<text x="413.1" y="263.55" font-size="9.7" font-weight="bold" text-anchor="start" fill="#000" font-family='"Liberation Serif", serif' stroke="#000" stroke-width="0.25">56</text>
<text x="439.1" y="263.55" font-size="9.7" font-weight="bold" text-anchor="start" fill="#000" font-family='"Liberation Serif", serif' stroke="#000" stroke-width="0.25">8.68</text>
<text x="481.1" y="263.55" font-size="9.7" font-weight="bold" text-anchor="start" fill="#c8142a" font-family='"Liberation Serif", serif' stroke="#c8142a" stroke-width="0.25">&lt;0.0001</text>
<text x="284.9" y="281.4" font-size="9.7" font-weight="bold" text-anchor="start" fill="#000" font-family='"Liberation Serif", serif' stroke="#000" stroke-width="0.25">time_ij</text>
<text x="331.6" y="281.4" font-size="9.7" font-weight="bold" text-anchor="start" fill="#000" font-family='"Liberation Serif", serif' stroke="#000" stroke-width="0.25">0.0009</text>
<text x="376.2" y="281.4" font-size="9.7" font-weight="bold" text-anchor="start" fill="#000" font-family='"Liberation Serif", serif' stroke="#000" stroke-width="0.25">0.0004</text>
<text x="413.1" y="281.4" font-size="9.7" font-weight="bold" text-anchor="start" fill="#000" font-family='"Liberation Serif", serif' stroke="#000" stroke-width="0.25">56</text>
<text x="439.1" y="281.4" font-size="9.7" font-weight="bold" text-anchor="start" fill="#000" font-family='"Liberation Serif", serif' stroke="#000" stroke-width="0.25">2.20</text>
<text x="481.1" y="281.4" font-size="9.7" font-weight="bold" text-anchor="start" fill="#c8142a" font-family='"Liberation Serif", serif' stroke="#c8142a" stroke-width="0.25">0.032</text>
<text x="439.1" y="299.7" font-size="9.7" font-weight="bold" text-anchor="start" fill="#000" font-family='"Liberation Serif", serif' stroke="#000" stroke-width="0.25">Z-value</text>
<text x="481.1" y="299.7" font-size="9.7" font-weight="bold" text-anchor="start" fill="#000" font-family='"Liberation Serif", serif' stroke="#000" stroke-width="0.25">Pr Z</text>
<text x="284.9" y="318.4" font-size="9.7" font-weight="bold" text-anchor="start" fill="#000" font-family='"Liberation Serif", serif' stroke="#000" stroke-width="0.25">Var(b_i)</text>
<text x="331.6" y="318.4" font-size="9.7" font-weight="bold" text-anchor="start" fill="#000" font-family='"Liberation Serif", serif' stroke="#000" stroke-width="0.25">0.00</text>
<text x="376.2" y="318.4" font-size="9.7" font-weight="bold" text-anchor="start" fill="#000" font-family='"Liberation Serif", serif' stroke="#000" stroke-width="0.25">-</text>
<text x="439.1" y="318.4" font-size="9.7" font-weight="bold" text-anchor="start" fill="#000" font-family='"Liberation Serif", serif' stroke="#000" stroke-width="0.25">-</text>
<text x="481.1" y="318.4" font-size="9.7" font-weight="bold" text-anchor="start" fill="#000" font-family='"Liberation Serif", serif' stroke="#000" stroke-width="0.25">-</text>
<text x="284.9" y="337.1" font-size="9.7" font-weight="bold" text-anchor="start" fill="#000" font-family='"Liberation Serif", serif' stroke="#000" stroke-width="0.25">Var(e_ij)</text>
<text x="331.6" y="337.1" font-size="9.7" font-weight="bold" text-anchor="start" fill="#000" font-family='"Liberation Serif", serif' stroke="#000" stroke-width="0.25">0.001</text>
<text x="376.2" y="337.1" font-size="9.7" font-weight="bold" text-anchor="start" fill="#000" font-family='"Liberation Serif", serif' stroke="#000" stroke-width="0.25">0.0007</text>
<text x="439.1" y="337.1" font-size="9.7" font-weight="bold" text-anchor="start" fill="#000" font-family='"Liberation Serif", serif' stroke="#000" stroke-width="0.25">1.76</text>
<text x="481.1" y="337.1" font-size="9.7" font-weight="bold" text-anchor="start" fill="#c8142a" font-family='"Liberation Serif", serif' stroke="#c8142a" stroke-width="0.25">0.039</text>
<text x="282.8" y="385.4" font-size="11.7" font-weight="bold" text-anchor="start" fill="#000" font-family='"Liberation Sans", sans-serif' >WBC</text>
<rect x="275.7" y="392.3" width="241.09999999999997" height="129.3" fill="none" stroke="#000" stroke-width="1.5"/>
<line x1="321.9" y1="392.3" x2="321.9" y2="521.6" stroke="#000" stroke-width="1.25" />
<line x1="371.7" y1="392.3" x2="371.7" y2="521.6" stroke="#000" stroke-width="1.25" />
<line x1="402.9" y1="392.3" x2="402.9" y2="521.6" stroke="#000" stroke-width="1.25" />
<line x1="432.0" y1="392.3" x2="432.0" y2="521.6" stroke="#000" stroke-width="1.25" />
<line x1="474.8" y1="392.3" x2="474.8" y2="521.6" stroke="#000" stroke-width="1.25" />
<line x1="275.7" y1="410.8" x2="516.8" y2="410.8" stroke="#000" stroke-width="1.25" />
<line x1="275.7" y1="429.3" x2="516.8" y2="429.3" stroke="#000" stroke-width="1.25" />
<line x1="275.7" y1="447.3" x2="516.8" y2="447.3" stroke="#000" stroke-width="1.25" />
<line x1="275.7" y1="465.5" x2="516.8" y2="465.5" stroke="#000" stroke-width="1.25" />
<line x1="275.7" y1="484.3" x2="516.8" y2="484.3" stroke="#000" stroke-width="1.25" />
<line x1="275.7" y1="503.0" x2="516.8" y2="503.0" stroke="#000" stroke-width="1.25" />
<text x="278.9" y="404.95" font-size="9.7" font-weight="bold" text-anchor="start" fill="#000" font-family='"Liberation Serif", serif' stroke="#000" stroke-width="0.25">Variable</text>
<text x="325.1" y="404.95" font-size="9.7" font-weight="bold" text-anchor="start" fill="#000" font-family='"Liberation Serif", serif' stroke="#000" stroke-width="0.25">Estimate</text>
<text x="374.9" y="404.95" font-size="9.7" font-weight="bold" text-anchor="start" fill="#000" font-family='"Liberation Serif", serif' stroke="#000" stroke-width="0.25">SE</text>
<text x="406.1" y="404.95" font-size="9.7" font-weight="bold" text-anchor="start" fill="#000" font-family='"Liberation Serif", serif' stroke="#000" stroke-width="0.25">DF</text>
<text x="435.2" y="404.95" font-size="9.7" font-weight="bold" text-anchor="start" fill="#000" font-family='"Liberation Serif", serif' stroke="#000" stroke-width="0.25">t-value</text>
<text x="478.0" y="404.95" font-size="9.7" font-weight="bold" text-anchor="start" fill="#000" font-family='"Liberation Serif", serif' stroke="#000" stroke-width="0.25">Pr&gt;|t|</text>
<text x="278.9" y="423.45" font-size="9.7" font-weight="bold" text-anchor="start" fill="#000" font-family='"Liberation Serif", serif' stroke="#000" stroke-width="0.25">Intercept</text>
<text x="325.1" y="423.45" font-size="9.7" font-weight="bold" text-anchor="start" fill="#000" font-family='"Liberation Serif", serif' stroke="#000" stroke-width="0.25">7088</text>
<text x="374.9" y="423.45" font-size="9.7" font-weight="bold" text-anchor="start" fill="#000" font-family='"Liberation Serif", serif' stroke="#000" stroke-width="0.25">233</text>
<text x="406.1" y="423.45" font-size="9.7" font-weight="bold" text-anchor="start" fill="#000" font-family='"Liberation Serif", serif' stroke="#000" stroke-width="0.25">18</text>
<text x="435.2" y="423.45" font-size="9.7" font-weight="bold" text-anchor="start" fill="#000" font-family='"Liberation Serif", serif' stroke="#000" stroke-width="0.25">31.76</text>
<text x="478.0" y="423.45" font-size="9.7" font-weight="bold" text-anchor="start" fill="#c8142a" font-family='"Liberation Serif", serif' stroke="#c8142a" stroke-width="0.25">&lt;0.0001</text>
<text x="278.9" y="441.7" font-size="9.7" font-weight="bold" text-anchor="start" fill="#000" font-family='"Liberation Serif", serif' stroke="#000" stroke-width="0.25">group_i</text>
<text x="325.1" y="441.7" font-size="9.7" font-weight="bold" text-anchor="start" fill="#000" font-family='"Liberation Serif", serif' stroke="#000" stroke-width="0.25">-1436</text>
<text x="374.9" y="441.7" font-size="9.7" font-weight="bold" text-anchor="start" fill="#000" font-family='"Liberation Serif", serif' stroke="#000" stroke-width="0.25">203</text>
<text x="406.1" y="441.7" font-size="9.7" font-weight="bold" text-anchor="start" fill="#000" font-family='"Liberation Serif", serif' stroke="#000" stroke-width="0.25">56</text>
<text x="435.2" y="441.7" font-size="9.7" font-weight="bold" text-anchor="start" fill="#000" font-family='"Liberation Serif", serif' stroke="#000" stroke-width="0.25">-7.09</text>
<text x="478.0" y="441.7" font-size="9.7" font-weight="bold" text-anchor="start" fill="#c8142a" font-family='"Liberation Serif", serif' stroke="#c8142a" stroke-width="0.25">&lt;0.0001</text>
<text x="278.9" y="459.8" font-size="9.7" font-weight="bold" text-anchor="start" fill="#000" font-family='"Liberation Serif", serif' stroke="#000" stroke-width="0.25">time_ij</text>
<text x="325.1" y="459.8" font-size="9.7" font-weight="bold" text-anchor="start" fill="#000" font-family='"Liberation Serif", serif' stroke="#000" stroke-width="0.25">2.90</text>
<text x="374.9" y="459.8" font-size="9.7" font-weight="bold" text-anchor="start" fill="#000" font-family='"Liberation Serif", serif' stroke="#000" stroke-width="0.25">3.92</text>
<text x="406.1" y="459.8" font-size="9.7" font-weight="bold" text-anchor="start" fill="#000" font-family='"Liberation Serif", serif' stroke="#000" stroke-width="0.25">56</text>
<text x="435.2" y="459.8" font-size="9.7" font-weight="bold" text-anchor="start" fill="#000" font-family='"Liberation Serif", serif' stroke="#000" stroke-width="0.25">0.74</text>
<text x="478.0" y="459.8" font-size="9.7" font-weight="bold" text-anchor="start" fill="#000" font-family='"Liberation Serif", serif' stroke="#000" stroke-width="0.25">0.463</text>
<text x="435.2" y="478.3" font-size="9.7" font-weight="bold" text-anchor="start" fill="#000" font-family='"Liberation Serif", serif' stroke="#000" stroke-width="0.25">Z-value</text>
<text x="478.0" y="478.3" font-size="9.7" font-weight="bold" text-anchor="start" fill="#000" font-family='"Liberation Serif", serif' stroke="#000" stroke-width="0.25">Pr Z</text>
<text x="278.9" y="497.05" font-size="9.7" font-weight="bold" text-anchor="start" fill="#000" font-family='"Liberation Serif", serif' stroke="#000" stroke-width="0.25">Var(b_i)</text>
<text x="325.1" y="497.05" font-size="9.7" font-weight="bold" text-anchor="start" fill="#000" font-family='"Liberation Serif", serif' stroke="#000" stroke-width="0.25">88491</text>
<text x="374.9" y="497.05" font-size="9.7" font-weight="bold" text-anchor="start" fill="#000" font-family='"Liberation Serif", serif' stroke="#000" stroke-width="0.25">74292</text>
<text x="435.2" y="497.05" font-size="9.7" font-weight="bold" text-anchor="start" fill="#000" font-family='"Liberation Serif", serif' stroke="#000" stroke-width="0.25">1.19</text>
<text x="478.0" y="497.05" font-size="9.7" font-weight="bold" text-anchor="start" fill="#000" font-family='"Liberation Serif", serif' stroke="#000" stroke-width="0.25">0.117</text>
<text x="278.9" y="515.7" font-size="9.7" font-weight="bold" text-anchor="start" fill="#000" font-family='"Liberation Serif", serif' stroke="#000" stroke-width="0.25">Var(e_ij)</text>
<text x="325.1" y="515.7" font-size="9.7" font-weight="bold" text-anchor="start" fill="#000" font-family='"Liberation Serif", serif' stroke="#000" stroke-width="0.25">392946</text>
<text x="374.9" y="515.7" font-size="9.7" font-weight="bold" text-anchor="start" fill="#000" font-family='"Liberation Serif", serif' stroke="#000" stroke-width="0.25">77528</text>
<text x="435.2" y="515.7" font-size="9.7" font-weight="bold" text-anchor="start" fill="#000" font-family='"Liberation Serif", serif' stroke="#000" stroke-width="0.25">5.07</text>
<text x="478.0" y="515.7" font-size="9.7" font-weight="bold" text-anchor="start" fill="#c8142a" font-family='"Liberation Serif", serif' stroke="#c8142a" stroke-width="0.25">&lt;0.0001</text>
<text x="139.4" y="575.1" font-size="13" font-weight="bold" text-anchor="start" fill="#000" font-family='"Liberation Sans", sans-serif' >D</text>
<text x="174.3" y="574.2" font-size="10.2" font-weight="normal" text-anchor="start" fill="#000" font-family='"Liberation Sans", sans-serif' stroke="#000" stroke-width="0.3">Wild-Type</text>
<text x="304.8" y="573.5" font-size="10.25" font-family='"Liberation Sans", sans-serif' stroke="#000" stroke-width="0.3">Gata1<tspan font-size="6.8" dy="-3" dx="0.4">low</tspan></text>
<text x="135.6" y="687.2" font-size="10.25" font-family='"Liberation Sans", sans-serif' stroke="#000" stroke-width="0.3"><tspan font-style="italic">SB431542</tspan>-treated Gata1<tspan font-size="6.8" dy="-3.2" dx="0.4">low</tspan></text>
<text x="272.2" y="687.3" font-size="10.25" font-family='"Liberation Sans", sans-serif' stroke="#000" stroke-width="0.3">Vehicle-treated Gata1<tspan font-size="6.8" dy="-3.2" dx="0.4">low</tspan></text>
<svg x="139.2" y="578.8" width="117.7" height="88.0" overflow="hidden">
<rect x="-2" y="-2" width="121.7" height="92.0" fill="#b6b8a2"/>
<g filter="url(#f)">
<circle cx="3.3" cy="5.4" r="4.55" fill="#aea09e"/>
<circle cx="14.8" cy="3.7" r="4.55" fill="#aea09e"/>
<circle cx="22.9" cy="2.5" r="4.55" fill="#aea09e"/>
<circle cx="37.9" cy="6.0" r="4.55" fill="#aea09e"/>
<circle cx="46.5" cy="4.2" r="4.55" fill="#aea09e"/>
<circle cx="59.6" cy="3.7" r="4.55" fill="#aea09e"/>
<circle cx="3.3" cy="12.9" r="4.55" fill="#aea09e"/>
<circle cx="14.8" cy="10.0" r="4.55" fill="#aea09e"/>
<circle cx="11.3" cy="15.2" r="4.55" fill="#aea09e"/>
<circle cx="47.7" cy="10.0" r="4.55" fill="#aea09e"/>
<circle cx="54.6" cy="11.2" r="4.55" fill="#aea09e"/>
<circle cx="5.0" cy="19.2" r="4.55" fill="#aea09e"/>
<circle cx="20.0" cy="17.5" r="4.55" fill="#aea09e"/>
<circle cx="35.6" cy="16.9" r="4.55" fill="#aea09e"/>
<circle cx="42.5" cy="15.2" r="4.55" fill="#aea09e"/>
<circle cx="51.1" cy="19.2" r="4.55" fill="#aea09e"/>
<circle cx="59.0" cy="15.5" r="4.55" fill="#aea09e"/>
<circle cx="2.7" cy="25.0" r="4.55" fill="#aea09e"/>
<circle cx="13.6" cy="22.7" r="4.55" fill="#aea09e"/>
<circle cx="22.9" cy="24.4" r="4.55" fill="#aea09e"/>
<circle cx="30.4" cy="23.9" r="4.55" fill="#aea09e"/>
<circle cx="59.9" cy="23.0" r="4.55" fill="#aea09e"/>
<circle cx="7.3" cy="30.8" r="4.55" fill="#aea09e"/>
<circle cx="14.8" cy="31.4" r="4.55" fill="#aea09e"/>
<circle cx="26.3" cy="31.9" r="4.55" fill="#aea09e"/>
<circle cx="40.8" cy="30.2" r="4.55" fill="#aea09e"/>
<circle cx="48.3" cy="27.3" r="4.55" fill="#aea09e"/>
<circle cx="54.0" cy="32.5" r="4.55" fill="#aea09e"/>
<circle cx="3.8" cy="38.3" r="4.55" fill="#aea09e"/>
<circle cx="20.6" cy="36.0" r="4.55" fill="#aea09e"/>
<circle cx="32.1" cy="37.1" r="4.55" fill="#aea09e"/>
<circle cx="42.5" cy="36.5" r="4.55" fill="#aea09e"/>
<circle cx="51.7" cy="38.3" r="4.55" fill="#aea09e"/>
<circle cx="59.9" cy="34.5" r="4.55" fill="#aea09e"/>
<circle cx="13.6" cy="41.2" r="4.55" fill="#aea09e"/>
<circle cx="24.6" cy="42.9" r="4.55" fill="#aea09e"/>
<circle cx="39.3" cy="44.7" r="4.55" fill="#aea09e"/>
<circle cx="48.8" cy="45.3" r="4.55" fill="#aea09e"/>
<circle cx="57.5" cy="45.3" r="4.55" fill="#aea09e"/>
<circle cx="72.6" cy="1.9" r="4.55" fill="#aea09e"/>
<circle cx="80.1" cy="4.2" r="4.55" fill="#aea09e"/>
<circle cx="90.0" cy="3.7" r="4.55" fill="#aea09e"/>
<circle cx="98.0" cy="2.5" r="4.55" fill="#aea09e"/>
<circle cx="109.6" cy="3.7" r="4.55" fill="#aea09e"/>
<circle cx="115.3" cy="6.5" r="4.55" fill="#aea09e"/>
<circle cx="65.7" cy="11.7" r="4.55" fill="#aea09e"/>
<circle cx="77.8" cy="10.0" r="4.55" fill="#aea09e"/>
<circle cx="86.5" cy="10.6" r="4.55" fill="#aea09e"/>
<circle cx="94.6" cy="8.3" r="4.55" fill="#aea09e"/>
<circle cx="109.0" cy="10.0" r="4.55" fill="#aea09e"/>
<circle cx="72.6" cy="15.2" r="4.55" fill="#aea09e"/>
<circle cx="93.4" cy="13.5" r="4.55" fill="#aea09e"/>
<circle cx="102.6" cy="14.6" r="4.55" fill="#aea09e"/>
<circle cx="110.7" cy="16.4" r="4.55" fill="#aea09e"/>
<circle cx="68.6" cy="23.3" r="4.55" fill="#aea09e"/>
<circle cx="78.4" cy="21.5" r="4.55" fill="#aea09e"/>
<circle cx="87.1" cy="22.1" r="4.55" fill="#aea09e"/>
<circle cx="93.4" cy="19.8" r="4.55" fill="#aea09e"/>
<circle cx="102.1" cy="21.0" r="4.55" fill="#aea09e"/>
<circle cx="115.3" cy="23.3" r="4.55" fill="#aea09e"/>
<circle cx="70.3" cy="29.0" r="4.55" fill="#aea09e"/>
<circle cx="88.8" cy="29.6" r="4.55" fill="#aea09e"/>
<circle cx="95.7" cy="27.3" r="4.55" fill="#aea09e"/>
<circle cx="102.6" cy="29.6" r="4.55" fill="#aea09e"/>
<circle cx="115.3" cy="30.2" r="4.55" fill="#aea09e"/>
<circle cx="80.7" cy="33.1" r="4.55" fill="#aea09e"/>
<circle cx="93.4" cy="34.8" r="4.55" fill="#aea09e"/>
<circle cx="101.5" cy="34.8" r="4.55" fill="#aea09e"/>
<circle cx="108.4" cy="34.8" r="4.55" fill="#aea09e"/>
<circle cx="114.8" cy="34.2" r="4.55" fill="#aea09e"/>
<circle cx="61.1" cy="39.4" r="4.55" fill="#aea09e"/>
<circle cx="71.5" cy="40.6" r="4.55" fill="#aea09e"/>
<circle cx="86.5" cy="38.3" r="4.55" fill="#aea09e"/>
<circle cx="96.9" cy="40.6" r="4.55" fill="#aea09e"/>
<circle cx="106.1" cy="42.3" r="4.55" fill="#aea09e"/>
<circle cx="113.0" cy="40.6" r="4.55" fill="#aea09e"/>
<circle cx="80.7" cy="44.4" r="4.55" fill="#aea09e"/>
<circle cx="3.3" cy="46.5" r="4.55" fill="#aea09e"/>
<circle cx="10.2" cy="45.4" r="4.55" fill="#aea09e"/>
<circle cx="19.4" cy="45.9" r="4.55" fill="#aea09e"/>
<circle cx="33.3" cy="46.5" r="4.55" fill="#aea09e"/>
<circle cx="6.1" cy="52.3" r="4.55" fill="#aea09e"/>
<circle cx="13.6" cy="52.9" r="4.55" fill="#aea09e"/>
<circle cx="21.1" cy="50.5" r="4.55" fill="#aea09e"/>
<circle cx="28.1" cy="55.7" r="4.55" fill="#aea09e"/>
<circle cx="36.1" cy="55.2" r="4.55" fill="#aea09e"/>
<circle cx="43.6" cy="55.2" r="4.55" fill="#aea09e"/>
<circle cx="58.7" cy="55.7" r="4.55" fill="#aea09e"/>
<circle cx="4.4" cy="59.2" r="4.55" fill="#aea09e"/>
<circle cx="14.2" cy="59.2" r="4.55" fill="#aea09e"/>
<circle cx="21.7" cy="61.5" r="4.55" fill="#aea09e"/>
<circle cx="32.7" cy="63.2" r="4.55" fill="#aea09e"/>
<circle cx="42.5" cy="63.8" r="4.55" fill="#aea09e"/>
<circle cx="50.6" cy="59.2" r="4.55" fill="#aea09e"/>
<circle cx="2.7" cy="68.4" r="4.55" fill="#aea09e"/>
<circle cx="10.8" cy="66.7" r="4.55" fill="#aea09e"/>
<circle cx="17.1" cy="69.0" r="4.55" fill="#aea09e"/>
<circle cx="50.0" cy="67.9" r="4.55" fill="#aea09e"/>
<circle cx="57.5" cy="69.6" r="4.55" fill="#aea09e"/>
<circle cx="59.3" cy="64.1" r="4.55" fill="#aea09e"/>
<circle cx="3.3" cy="74.8" r="4.55" fill="#aea09e"/>
<circle cx="10.2" cy="77.7" r="4.55" fill="#aea09e"/>
<circle cx="39.0" cy="77.1" r="4.55" fill="#aea09e"/>
<circle cx="55.2" cy="74.8" r="4.55" fill="#aea09e"/>
<circle cx="18.3" cy="83.4" r="4.55" fill="#aea09e"/>
<circle cx="25.8" cy="84.0" r="4.55" fill="#aea09e"/>
<circle cx="32.7" cy="80.5" r="4.55" fill="#aea09e"/>
<circle cx="44.2" cy="81.7" r="4.55" fill="#aea09e"/>
<circle cx="50.6" cy="82.3" r="4.55" fill="#aea09e"/>
<circle cx="58.7" cy="82.6" r="4.55" fill="#aea09e"/>
<circle cx="4.4" cy="83.4" r="4.55" fill="#aea09e"/>
<circle cx="61.1" cy="47.1" r="4.55" fill="#aea09e"/>
<circle cx="67.5" cy="46.5" r="4.55" fill="#aea09e"/>
<circle cx="75.0" cy="45.9" r="4.55" fill="#aea09e"/>
<circle cx="89.4" cy="50.0" r="4.55" fill="#aea09e"/>
<circle cx="103.8" cy="45.9" r="4.55" fill="#aea09e"/>
<circle cx="111.9" cy="47.7" r="4.55" fill="#aea09e"/>
<circle cx="70.3" cy="54.0" r="4.55" fill="#aea09e"/>
<circle cx="80.1" cy="54.0" r="4.55" fill="#aea09e"/>
<circle cx="98.0" cy="56.9" r="4.55" fill="#aea09e"/>
<circle cx="106.1" cy="57.5" r="4.55" fill="#aea09e"/>
<circle cx="113.0" cy="52.9" r="4.55" fill="#aea09e"/>
<circle cx="115.3" cy="57.5" r="4.55" fill="#aea09e"/>
<circle cx="65.7" cy="60.4" r="4.55" fill="#aea09e"/>
<circle cx="82.5" cy="62.1" r="4.55" fill="#aea09e"/>
<circle cx="90.0" cy="59.8" r="4.55" fill="#aea09e"/>
<circle cx="107.3" cy="63.2" r="4.55" fill="#aea09e"/>
<circle cx="115.9" cy="64.4" r="4.55" fill="#aea09e"/>
<circle cx="71.5" cy="66.1" r="4.55" fill="#aea09e"/>
<circle cx="80.1" cy="68.4" r="4.55" fill="#aea09e"/>
<circle cx="87.6" cy="66.7" r="4.55" fill="#aea09e"/>
<circle cx="95.7" cy="66.1" r="4.55" fill="#aea09e"/>
<circle cx="107.3" cy="70.7" r="4.55" fill="#aea09e"/>
<circle cx="66.9" cy="74.8" r="4.55" fill="#aea09e"/>
<circle cx="76.1" cy="73.6" r="4.55" fill="#aea09e"/>
<circle cx="84.2" cy="75.4" r="4.55" fill="#aea09e"/>
<circle cx="91.1" cy="73.6" r="4.55" fill="#aea09e"/>
<circle cx="98.6" cy="71.9" r="4.55" fill="#aea09e"/>
<circle cx="104.4" cy="75.9" r="4.55" fill="#aea09e"/>
<circle cx="113.0" cy="74.8" r="4.55" fill="#aea09e"/>
<circle cx="68.0" cy="81.7" r="4.55" fill="#aea09e"/>
<circle cx="81.9" cy="81.1" r="4.55" fill="#aea09e"/>
<circle cx="93.4" cy="81.1" r="4.55" fill="#aea09e"/>
<circle cx="100.3" cy="78.8" r="4.55" fill="#aea09e"/>
<circle cx="108.4" cy="80.0" r="4.55" fill="#aea09e"/>
<circle cx="77.3" cy="86.9" r="4.55" fill="#aea09e"/>
<circle cx="86.5" cy="85.7" r="4.55" fill="#aea09e"/>
<circle cx="98.0" cy="85.7" r="4.55" fill="#aea09e"/>
<circle cx="3.3" cy="5.4" r="2.50" fill="#927684" stroke="#6e5264" stroke-width="1.5"/>
<circle cx="14.8" cy="3.7" r="2.50" fill="#927684" stroke="#6e5264" stroke-width="1.5"/>
<circle cx="22.9" cy="2.5" r="2.50" fill="#927684" stroke="#6e5264" stroke-width="1.5"/>
<circle cx="37.9" cy="6.0" r="2.50" fill="#927684" stroke="#6e5264" stroke-width="1.5"/>
<circle cx="46.5" cy="4.2" r="2.50" fill="#927684" stroke="#6e5264" stroke-width="1.5"/>
<circle cx="59.6" cy="3.7" r="2.50" fill="#927684" stroke="#6e5264" stroke-width="1.5"/>
<circle cx="3.3" cy="12.9" r="2.50" fill="#927684" stroke="#6e5264" stroke-width="1.5"/>
<circle cx="14.8" cy="10.0" r="2.50" fill="#927684" stroke="#6e5264" stroke-width="1.5"/>
<circle cx="11.3" cy="15.2" r="2.50" fill="#927684" stroke="#6e5264" stroke-width="1.5"/>
<circle cx="47.7" cy="10.0" r="2.50" fill="#927684" stroke="#6e5264" stroke-width="1.5"/>
<circle cx="54.6" cy="11.2" r="2.50" fill="#927684" stroke="#6e5264" stroke-width="1.5"/>
<circle cx="5.0" cy="19.2" r="2.50" fill="#927684" stroke="#6e5264" stroke-width="1.5"/>
<circle cx="20.0" cy="17.5" r="2.50" fill="#927684" stroke="#6e5264" stroke-width="1.5"/>
<circle cx="35.6" cy="16.9" r="2.50" fill="#927684" stroke="#6e5264" stroke-width="1.5"/>
<circle cx="42.5" cy="15.2" r="2.50" fill="#927684" stroke="#6e5264" stroke-width="1.5"/>
<circle cx="51.1" cy="19.2" r="2.50" fill="#927684" stroke="#6e5264" stroke-width="1.5"/>
<circle cx="59.0" cy="15.5" r="2.50" fill="#927684" stroke="#6e5264" stroke-width="1.5"/>
<circle cx="2.7" cy="25.0" r="2.50" fill="#927684" stroke="#6e5264" stroke-width="1.5"/>
<circle cx="13.6" cy="22.7" r="2.50" fill="#927684" stroke="#6e5264" stroke-width="1.5"/>
<circle cx="22.9" cy="24.4" r="2.50" fill="#927684" stroke="#6e5264" stroke-width="1.5"/>
<circle cx="30.4" cy="23.9" r="2.50" fill="#927684" stroke="#6e5264" stroke-width="1.5"/>
<circle cx="59.9" cy="23.0" r="2.50" fill="#927684" stroke="#6e5264" stroke-width="1.5"/>
<circle cx="7.3" cy="30.8" r="2.50" fill="#927684" stroke="#6e5264" stroke-width="1.5"/>
<circle cx="14.8" cy="31.4" r="2.50" fill="#927684" stroke="#6e5264" stroke-width="1.5"/>
<circle cx="26.3" cy="31.9" r="2.50" fill="#927684" stroke="#6e5264" stroke-width="1.5"/>
<circle cx="40.8" cy="30.2" r="2.50" fill="#927684" stroke="#6e5264" stroke-width="1.5"/>
<circle cx="48.3" cy="27.3" r="2.50" fill="#927684" stroke="#6e5264" stroke-width="1.5"/>
<circle cx="54.0" cy="32.5" r="2.50" fill="#927684" stroke="#6e5264" stroke-width="1.5"/>
<circle cx="3.8" cy="38.3" r="2.50" fill="#927684" stroke="#6e5264" stroke-width="1.5"/>
<circle cx="20.6" cy="36.0" r="2.50" fill="#927684" stroke="#6e5264" stroke-width="1.5"/>
<circle cx="32.1" cy="37.1" r="2.50" fill="#927684" stroke="#6e5264" stroke-width="1.5"/>
<circle cx="42.5" cy="36.5" r="2.50" fill="#927684" stroke="#6e5264" stroke-width="1.5"/>
<circle cx="51.7" cy="38.3" r="2.50" fill="#927684" stroke="#6e5264" stroke-width="1.5"/>
<circle cx="59.9" cy="34.5" r="2.50" fill="#927684" stroke="#6e5264" stroke-width="1.5"/>
<circle cx="13.6" cy="41.2" r="2.50" fill="#927684" stroke="#6e5264" stroke-width="1.5"/>
<circle cx="24.6" cy="42.9" r="2.50" fill="#927684" stroke="#6e5264" stroke-width="1.5"/>
<circle cx="39.3" cy="44.7" r="2.50" fill="#927684" stroke="#6e5264" stroke-width="1.5"/>
<circle cx="48.8" cy="45.3" r="2.50" fill="#927684" stroke="#6e5264" stroke-width="1.5"/>
<circle cx="57.5" cy="45.3" r="2.50" fill="#927684" stroke="#6e5264" stroke-width="1.5"/>
<circle cx="72.6" cy="1.9" r="2.50" fill="#927684" stroke="#6e5264" stroke-width="1.5"/>
<circle cx="80.1" cy="4.2" r="2.50" fill="#927684" stroke="#6e5264" stroke-width="1.5"/>
<circle cx="90.0" cy="3.7" r="2.50" fill="#927684" stroke="#6e5264" stroke-width="1.5"/>
<circle cx="98.0" cy="2.5" r="2.50" fill="#927684" stroke="#6e5264" stroke-width="1.5"/>
<circle cx="109.6" cy="3.7" r="2.50" fill="#927684" stroke="#6e5264" stroke-width="1.5"/>
<circle cx="115.3" cy="6.5" r="2.50" fill="#927684" stroke="#6e5264" stroke-width="1.5"/>
<circle cx="65.7" cy="11.7" r="2.50" fill="#927684" stroke="#6e5264" stroke-width="1.5"/>
<circle cx="77.8" cy="10.0" r="2.50" fill="#927684" stroke="#6e5264" stroke-width="1.5"/>
<circle cx="86.5" cy="10.6" r="2.50" fill="#927684" stroke="#6e5264" stroke-width="1.5"/>
<circle cx="94.6" cy="8.3" r="2.50" fill="#927684" stroke="#6e5264" stroke-width="1.5"/>
<circle cx="109.0" cy="10.0" r="2.50" fill="#927684" stroke="#6e5264" stroke-width="1.5"/>
<circle cx="72.6" cy="15.2" r="2.50" fill="#927684" stroke="#6e5264" stroke-width="1.5"/>
<circle cx="93.4" cy="13.5" r="2.50" fill="#927684" stroke="#6e5264" stroke-width="1.5"/>
<circle cx="102.6" cy="14.6" r="2.50" fill="#927684" stroke="#6e5264" stroke-width="1.5"/>
<circle cx="110.7" cy="16.4" r="2.50" fill="#927684" stroke="#6e5264" stroke-width="1.5"/>
<circle cx="68.6" cy="23.3" r="2.50" fill="#927684" stroke="#6e5264" stroke-width="1.5"/>
<circle cx="78.4" cy="21.5" r="2.50" fill="#927684" stroke="#6e5264" stroke-width="1.5"/>
<circle cx="87.1" cy="22.1" r="2.50" fill="#927684" stroke="#6e5264" stroke-width="1.5"/>
<circle cx="93.4" cy="19.8" r="2.50" fill="#927684" stroke="#6e5264" stroke-width="1.5"/>
<circle cx="102.1" cy="21.0" r="2.50" fill="#927684" stroke="#6e5264" stroke-width="1.5"/>
<circle cx="115.3" cy="23.3" r="2.50" fill="#927684" stroke="#6e5264" stroke-width="1.5"/>
<circle cx="70.3" cy="29.0" r="2.50" fill="#927684" stroke="#6e5264" stroke-width="1.5"/>
<circle cx="88.8" cy="29.6" r="2.50" fill="#927684" stroke="#6e5264" stroke-width="1.5"/>
<circle cx="95.7" cy="27.3" r="2.50" fill="#927684" stroke="#6e5264" stroke-width="1.5"/>
<circle cx="102.6" cy="29.6" r="2.50" fill="#927684" stroke="#6e5264" stroke-width="1.5"/>
<circle cx="115.3" cy="30.2" r="2.50" fill="#927684" stroke="#6e5264" stroke-width="1.5"/>
<circle cx="80.7" cy="33.1" r="2.50" fill="#927684" stroke="#6e5264" stroke-width="1.5"/>
<circle cx="93.4" cy="34.8" r="2.50" fill="#927684" stroke="#6e5264" stroke-width="1.5"/>
<circle cx="101.5" cy="34.8" r="2.50" fill="#927684" stroke="#6e5264" stroke-width="1.5"/>
<circle cx="108.4" cy="34.8" r="2.50" fill="#927684" stroke="#6e5264" stroke-width="1.5"/>
<circle cx="114.8" cy="34.2" r="2.50" fill="#927684" stroke="#6e5264" stroke-width="1.5"/>
<circle cx="61.1" cy="39.4" r="2.50" fill="#927684" stroke="#6e5264" stroke-width="1.5"/>
<circle cx="71.5" cy="40.6" r="2.50" fill="#927684" stroke="#6e5264" stroke-width="1.5"/>
<circle cx="86.5" cy="38.3" r="2.50" fill="#927684" stroke="#6e5264" stroke-width="1.5"/>
<circle cx="96.9" cy="40.6" r="2.50" fill="#927684" stroke="#6e5264" stroke-width="1.5"/>
<circle cx="106.1" cy="42.3" r="2.50" fill="#927684" stroke="#6e5264" stroke-width="1.5"/>
<circle cx="113.0" cy="40.6" r="2.50" fill="#927684" stroke="#6e5264" stroke-width="1.5"/>
<circle cx="80.7" cy="44.4" r="2.50" fill="#927684" stroke="#6e5264" stroke-width="1.5"/>
<circle cx="3.3" cy="46.5" r="2.50" fill="#927684" stroke="#6e5264" stroke-width="1.5"/>
<circle cx="10.2" cy="45.4" r="2.50" fill="#927684" stroke="#6e5264" stroke-width="1.5"/>
<circle cx="19.4" cy="45.9" r="2.50" fill="#927684" stroke="#6e5264" stroke-width="1.5"/>
<circle cx="33.3" cy="46.5" r="2.50" fill="#927684" stroke="#6e5264" stroke-width="1.5"/>
<circle cx="6.1" cy="52.3" r="2.50" fill="#927684" stroke="#6e5264" stroke-width="1.5"/>
<circle cx="13.6" cy="52.9" r="2.50" fill="#927684" stroke="#6e5264" stroke-width="1.5"/>
<circle cx="21.1" cy="50.5" r="2.50" fill="#927684" stroke="#6e5264" stroke-width="1.5"/>
<circle cx="28.1" cy="55.7" r="2.50" fill="#927684" stroke="#6e5264" stroke-width="1.5"/>
<circle cx="36.1" cy="55.2" r="2.50" fill="#927684" stroke="#6e5264" stroke-width="1.5"/>
<circle cx="43.6" cy="55.2" r="2.50" fill="#927684" stroke="#6e5264" stroke-width="1.5"/>
<circle cx="58.7" cy="55.7" r="2.50" fill="#927684" stroke="#6e5264" stroke-width="1.5"/>
<circle cx="4.4" cy="59.2" r="2.50" fill="#927684" stroke="#6e5264" stroke-width="1.5"/>
<circle cx="14.2" cy="59.2" r="2.50" fill="#927684" stroke="#6e5264" stroke-width="1.5"/>
<circle cx="21.7" cy="61.5" r="2.50" fill="#927684" stroke="#6e5264" stroke-width="1.5"/>
<circle cx="32.7" cy="63.2" r="2.50" fill="#927684" stroke="#6e5264" stroke-width="1.5"/>
<circle cx="42.5" cy="63.8" r="2.50" fill="#927684" stroke="#6e5264" stroke-width="1.5"/>
<circle cx="50.6" cy="59.2" r="2.50" fill="#927684" stroke="#6e5264" stroke-width="1.5"/>
<circle cx="2.7" cy="68.4" r="2.50" fill="#927684" stroke="#6e5264" stroke-width="1.5"/>
<circle cx="10.8" cy="66.7" r="2.50" fill="#927684" stroke="#6e5264" stroke-width="1.5"/>
<circle cx="17.1" cy="69.0" r="2.50" fill="#927684" stroke="#6e5264" stroke-width="1.5"/>
<circle cx="50.0" cy="67.9" r="2.50" fill="#927684" stroke="#6e5264" stroke-width="1.5"/>
<circle cx="57.5" cy="69.6" r="2.50" fill="#927684" stroke="#6e5264" stroke-width="1.5"/>
<circle cx="59.3" cy="64.1" r="2.50" fill="#927684" stroke="#6e5264" stroke-width="1.5"/>
<circle cx="3.3" cy="74.8" r="2.50" fill="#927684" stroke="#6e5264" stroke-width="1.5"/>
<circle cx="10.2" cy="77.7" r="2.50" fill="#927684" stroke="#6e5264" stroke-width="1.5"/>
<circle cx="39.0" cy="77.1" r="2.50" fill="#927684" stroke="#6e5264" stroke-width="1.5"/>
<circle cx="55.2" cy="74.8" r="2.50" fill="#927684" stroke="#6e5264" stroke-width="1.5"/>
<circle cx="18.3" cy="83.4" r="2.50" fill="#927684" stroke="#6e5264" stroke-width="1.5"/>
<circle cx="25.8" cy="84.0" r="2.50" fill="#927684" stroke="#6e5264" stroke-width="1.5"/>
<circle cx="32.7" cy="80.5" r="2.50" fill="#927684" stroke="#6e5264" stroke-width="1.5"/>
<circle cx="44.2" cy="81.7" r="2.50" fill="#927684" stroke="#6e5264" stroke-width="1.5"/>
<circle cx="50.6" cy="82.3" r="2.50" fill="#927684" stroke="#6e5264" stroke-width="1.5"/>
<circle cx="58.7" cy="82.6" r="2.50" fill="#927684" stroke="#6e5264" stroke-width="1.5"/>
<circle cx="4.4" cy="83.4" r="2.50" fill="#927684" stroke="#6e5264" stroke-width="1.5"/>
<circle cx="61.1" cy="47.1" r="2.50" fill="#927684" stroke="#6e5264" stroke-width="1.5"/>
<circle cx="67.5" cy="46.5" r="2.50" fill="#927684" stroke="#6e5264" stroke-width="1.5"/>
<circle cx="75.0" cy="45.9" r="2.50" fill="#927684" stroke="#6e5264" stroke-width="1.5"/>
<circle cx="89.4" cy="50.0" r="2.50" fill="#927684" stroke="#6e5264" stroke-width="1.5"/>
<circle cx="103.8" cy="45.9" r="2.50" fill="#927684" stroke="#6e5264" stroke-width="1.5"/>
<circle cx="111.9" cy="47.7" r="2.50" fill="#927684" stroke="#6e5264" stroke-width="1.5"/>
<circle cx="70.3" cy="54.0" r="2.50" fill="#927684" stroke="#6e5264" stroke-width="1.5"/>
<circle cx="80.1" cy="54.0" r="2.50" fill="#927684" stroke="#6e5264" stroke-width="1.5"/>
<circle cx="98.0" cy="56.9" r="2.50" fill="#927684" stroke="#6e5264" stroke-width="1.5"/>
<circle cx="106.1" cy="57.5" r="2.50" fill="#927684" stroke="#6e5264" stroke-width="1.5"/>
<circle cx="113.0" cy="52.9" r="2.50" fill="#927684" stroke="#6e5264" stroke-width="1.5"/>
<circle cx="115.3" cy="57.5" r="2.50" fill="#927684" stroke="#6e5264" stroke-width="1.5"/>
<circle cx="65.7" cy="60.4" r="2.50" fill="#927684" stroke="#6e5264" stroke-width="1.5"/>
<circle cx="82.5" cy="62.1" r="2.50" fill="#927684" stroke="#6e5264" stroke-width="1.5"/>
<circle cx="90.0" cy="59.8" r="2.50" fill="#927684" stroke="#6e5264" stroke-width="1.5"/>
<circle cx="107.3" cy="63.2" r="2.50" fill="#927684" stroke="#6e5264" stroke-width="1.5"/>
<circle cx="115.9" cy="64.4" r="2.50" fill="#927684" stroke="#6e5264" stroke-width="1.5"/>
<circle cx="71.5" cy="66.1" r="2.50" fill="#927684" stroke="#6e5264" stroke-width="1.5"/>
<circle cx="80.1" cy="68.4" r="2.50" fill="#927684" stroke="#6e5264" stroke-width="1.5"/>
<circle cx="87.6" cy="66.7" r="2.50" fill="#927684" stroke="#6e5264" stroke-width="1.5"/>
<circle cx="95.7" cy="66.1" r="2.50" fill="#927684" stroke="#6e5264" stroke-width="1.5"/>
<circle cx="107.3" cy="70.7" r="2.50" fill="#927684" stroke="#6e5264" stroke-width="1.5"/>
<circle cx="66.9" cy="74.8" r="2.50" fill="#927684" stroke="#6e5264" stroke-width="1.5"/>
<circle cx="76.1" cy="73.6" r="2.50" fill="#927684" stroke="#6e5264" stroke-width="1.5"/>
<circle cx="84.2" cy="75.4" r="2.50" fill="#927684" stroke="#6e5264" stroke-width="1.5"/>
<circle cx="91.1" cy="73.6" r="2.50" fill="#927684" stroke="#6e5264" stroke-width="1.5"/>
<circle cx="98.6" cy="71.9" r="2.50" fill="#927684" stroke="#6e5264" stroke-width="1.5"/>
<circle cx="104.4" cy="75.9" r="2.50" fill="#927684" stroke="#6e5264" stroke-width="1.5"/>
<circle cx="113.0" cy="74.8" r="2.50" fill="#927684" stroke="#6e5264" stroke-width="1.5"/>
<circle cx="68.0" cy="81.7" r="2.50" fill="#927684" stroke="#6e5264" stroke-width="1.5"/>
<circle cx="81.9" cy="81.1" r="2.50" fill="#927684" stroke="#6e5264" stroke-width="1.5"/>
<circle cx="93.4" cy="81.1" r="2.50" fill="#927684" stroke="#6e5264" stroke-width="1.5"/>
<circle cx="100.3" cy="78.8" r="2.50" fill="#927684" stroke="#6e5264" stroke-width="1.5"/>
<circle cx="108.4" cy="80.0" r="2.50" fill="#927684" stroke="#6e5264" stroke-width="1.5"/>
<circle cx="77.3" cy="86.9" r="2.50" fill="#927684" stroke="#6e5264" stroke-width="1.5"/>
<circle cx="86.5" cy="85.7" r="2.50" fill="#927684" stroke="#6e5264" stroke-width="1.5"/>
<circle cx="98.0" cy="85.7" r="2.50" fill="#927684" stroke="#6e5264" stroke-width="1.5"/>
</g></svg>
<svg x="266.75" y="578.9" width="117.4" height="87.9" overflow="hidden">
<rect x="-2" y="-2" width="121.4" height="91.9" fill="#bec0aa"/>
<g filter="url(#f)">
<circle cx="8.5" cy="1.8" r="4.85" fill="#b4a8a6"/>
<circle cx="15.4" cy="5.9" r="4.85" fill="#b4a8a6"/>
<circle cx="25.2" cy="5.9" r="4.85" fill="#b4a8a6"/>
<circle cx="33.9" cy="3.0" r="4.85" fill="#b4a8a6"/>
<circle cx="51.8" cy="6.4" r="4.85" fill="#b4a8a6"/>
<circle cx="59.0" cy="3.6" r="4.85" fill="#b4a8a6"/>
<circle cx="1.6" cy="7.0" r="4.85" fill="#b4a8a6"/>
<circle cx="5.0" cy="12.2" r="4.85" fill="#b4a8a6"/>
<circle cx="29.2" cy="15.7" r="4.85" fill="#b4a8a6"/>
<circle cx="36.2" cy="15.7" r="4.85" fill="#b4a8a6"/>
<circle cx="43.7" cy="13.9" r="4.85" fill="#b4a8a6"/>
<circle cx="58.8" cy="15.4" r="4.85" fill="#b4a8a6"/>
<circle cx="6.2" cy="19.7" r="4.85" fill="#b4a8a6"/>
<circle cx="22.3" cy="19.1" r="4.85" fill="#b4a8a6"/>
<circle cx="42.5" cy="20.3" r="4.85" fill="#b4a8a6"/>
<circle cx="55.2" cy="24.3" r="4.85" fill="#b4a8a6"/>
<circle cx="10.8" cy="24.3" r="4.85" fill="#b4a8a6"/>
<circle cx="31.0" cy="24.3" r="4.85" fill="#b4a8a6"/>
<circle cx="39.1" cy="26.6" r="4.85" fill="#b4a8a6"/>
<circle cx="2.1" cy="25.5" r="4.85" fill="#b4a8a6"/>
<circle cx="7.9" cy="31.8" r="4.85" fill="#b4a8a6"/>
<circle cx="15.4" cy="31.3" r="4.85" fill="#b4a8a6"/>
<circle cx="29.8" cy="33.6" r="4.85" fill="#b4a8a6"/>
<circle cx="36.2" cy="34.7" r="4.85" fill="#b4a8a6"/>
<circle cx="46.6" cy="35.3" r="4.85" fill="#b4a8a6"/>
<circle cx="2.7" cy="43.4" r="4.85" fill="#b4a8a6"/>
<circle cx="15.4" cy="40.5" r="4.85" fill="#b4a8a6"/>
<circle cx="22.9" cy="37.0" r="4.85" fill="#b4a8a6"/>
<circle cx="36.2" cy="42.8" r="4.85" fill="#b4a8a6"/>
<circle cx="50.6" cy="39.9" r="4.85" fill="#b4a8a6"/>
<circle cx="57.5" cy="38.2" r="4.85" fill="#b4a8a6"/>
<circle cx="69.8" cy="3.6" r="4.85" fill="#b4a8a6"/>
<circle cx="85.4" cy="3.0" r="4.85" fill="#b4a8a6"/>
<circle cx="97.5" cy="2.4" r="4.85" fill="#b4a8a6"/>
<circle cx="112.5" cy="3.6" r="4.85" fill="#b4a8a6"/>
<circle cx="73.2" cy="9.9" r="4.85" fill="#b4a8a6"/>
<circle cx="90.6" cy="7.6" r="4.85" fill="#b4a8a6"/>
<circle cx="102.1" cy="10.5" r="4.85" fill="#b4a8a6"/>
<circle cx="109.6" cy="11.6" r="4.85" fill="#b4a8a6"/>
<circle cx="114.8" cy="9.3" r="4.85" fill="#b4a8a6"/>
<circle cx="80.8" cy="13.4" r="4.85" fill="#b4a8a6"/>
<circle cx="68.1" cy="19.1" r="4.85" fill="#b4a8a6"/>
<circle cx="76.7" cy="19.7" r="4.85" fill="#b4a8a6"/>
<circle cx="87.1" cy="18.6" r="4.85" fill="#b4a8a6"/>
<circle cx="97.5" cy="18.6" r="4.85" fill="#b4a8a6"/>
<circle cx="114.8" cy="16.3" r="4.85" fill="#b4a8a6"/>
<circle cx="62.3" cy="27.8" r="4.85" fill="#b4a8a6"/>
<circle cx="79.6" cy="26.6" r="4.85" fill="#b4a8a6"/>
<circle cx="90.6" cy="28.4" r="4.85" fill="#b4a8a6"/>
<circle cx="99.8" cy="28.4" r="4.85" fill="#b4a8a6"/>
<circle cx="106.1" cy="30.1" r="4.85" fill="#b4a8a6"/>
<circle cx="114.8" cy="27.8" r="4.85" fill="#b4a8a6"/>
<circle cx="65.2" cy="33.6" r="4.85" fill="#b4a8a6"/>
<circle cx="76.1" cy="34.1" r="4.85" fill="#b4a8a6"/>
<circle cx="84.2" cy="34.7" r="4.85" fill="#b4a8a6"/>
<circle cx="91.7" cy="34.7" r="4.85" fill="#b4a8a6"/>
<circle cx="102.1" cy="33.6" r="4.85" fill="#b4a8a6"/>
<circle cx="111.3" cy="34.7" r="4.85" fill="#b4a8a6"/>
<circle cx="62.3" cy="42.2" r="4.85" fill="#b4a8a6"/>
<circle cx="80.2" cy="41.1" r="4.85" fill="#b4a8a6"/>
<circle cx="92.9" cy="39.9" r="4.85" fill="#b4a8a6"/>
<circle cx="100.9" cy="40.5" r="4.85" fill="#b4a8a6"/>
<circle cx="109.0" cy="39.9" r="4.85" fill="#b4a8a6"/>
<circle cx="115.4" cy="39.3" r="4.85" fill="#b4a8a6"/>
<circle cx="6.8" cy="51.0" r="4.85" fill="#b4a8a6"/>
<circle cx="16.0" cy="49.9" r="4.85" fill="#b4a8a6"/>
<circle cx="25.2" cy="48.7" r="4.85" fill="#b4a8a6"/>
<circle cx="32.7" cy="48.7" r="4.85" fill="#b4a8a6"/>
<circle cx="40.8" cy="49.3" r="4.85" fill="#b4a8a6"/>
<circle cx="50.6" cy="50.4" r="4.85" fill="#b4a8a6"/>
<circle cx="58.2" cy="48.7" r="4.85" fill="#b4a8a6"/>
<circle cx="3.9" cy="58.5" r="4.85" fill="#b4a8a6"/>
<circle cx="14.2" cy="58.5" r="4.85" fill="#b4a8a6"/>
<circle cx="23.5" cy="54.5" r="4.85" fill="#b4a8a6"/>
<circle cx="32.7" cy="56.2" r="4.85" fill="#b4a8a6"/>
<circle cx="51.8" cy="58.5" r="4.85" fill="#b4a8a6"/>
<circle cx="26.9" cy="61.4" r="4.85" fill="#b4a8a6"/>
<circle cx="40.2" cy="62.0" r="4.85" fill="#b4a8a6"/>
<circle cx="57.6" cy="64.9" r="4.85" fill="#b4a8a6"/>
<circle cx="3.9" cy="70.6" r="4.85" fill="#b4a8a6"/>
<circle cx="11.9" cy="67.2" r="4.85" fill="#b4a8a6"/>
<circle cx="32.1" cy="66.6" r="4.85" fill="#b4a8a6"/>
<circle cx="26.9" cy="72.4" r="4.85" fill="#b4a8a6"/>
<circle cx="50.6" cy="73.8" r="4.85" fill="#b4a8a6"/>
<circle cx="1.6" cy="77.6" r="4.85" fill="#b4a8a6"/>
<circle cx="35.6" cy="77.6" r="4.85" fill="#b4a8a6"/>
<circle cx="43.1" cy="75.8" r="4.85" fill="#b4a8a6"/>
<circle cx="56.9" cy="78.7" r="4.85" fill="#b4a8a6"/>
<circle cx="17.7" cy="81.0" r="4.85" fill="#b4a8a6"/>
<circle cx="26.4" cy="82.8" r="4.85" fill="#b4a8a6"/>
<circle cx="33.9" cy="85.6" r="4.85" fill="#b4a8a6"/>
<circle cx="42.5" cy="82.2" r="4.85" fill="#b4a8a6"/>
<circle cx="50.0" cy="83.3" r="4.85" fill="#b4a8a6"/>
<circle cx="8.5" cy="87.4" r="4.85" fill="#b4a8a6"/>
<circle cx="70.9" cy="46.4" r="4.85" fill="#b4a8a6"/>
<circle cx="102.1" cy="49.3" r="4.85" fill="#b4a8a6"/>
<circle cx="110.2" cy="48.1" r="4.85" fill="#b4a8a6"/>
<circle cx="115.9" cy="49.3" r="4.85" fill="#b4a8a6"/>
<circle cx="64.6" cy="53.9" r="4.85" fill="#b4a8a6"/>
<circle cx="75.0" cy="52.2" r="4.85" fill="#b4a8a6"/>
<circle cx="82.5" cy="56.8" r="4.85" fill="#b4a8a6"/>
<circle cx="89.4" cy="54.5" r="4.85" fill="#b4a8a6"/>
<circle cx="95.2" cy="54.5" r="4.85" fill="#b4a8a6"/>
<circle cx="72.1" cy="60.3" r="4.85" fill="#b4a8a6"/>
<circle cx="102.7" cy="59.1" r="4.85" fill="#b4a8a6"/>
<circle cx="69.2" cy="67.2" r="4.85" fill="#b4a8a6"/>
<circle cx="76.7" cy="66.0" r="4.85" fill="#b4a8a6"/>
<circle cx="92.9" cy="66.0" r="4.85" fill="#b4a8a6"/>
<circle cx="106.7" cy="66.6" r="4.85" fill="#b4a8a6"/>
<circle cx="114.2" cy="67.2" r="4.85" fill="#b4a8a6"/>
<circle cx="62.9" cy="73.5" r="4.85" fill="#b4a8a6"/>
<circle cx="70.9" cy="76.4" r="4.85" fill="#b4a8a6"/>
<circle cx="78.4" cy="75.8" r="4.85" fill="#b4a8a6"/>
<circle cx="86.5" cy="76.4" r="4.85" fill="#b4a8a6"/>
<circle cx="94.0" cy="74.1" r="4.85" fill="#b4a8a6"/>
<circle cx="100.4" cy="72.4" r="4.85" fill="#b4a8a6"/>
<circle cx="104.4" cy="75.8" r="4.85" fill="#b4a8a6"/>
<circle cx="111.3" cy="75.3" r="4.85" fill="#b4a8a6"/>
<circle cx="60.6" cy="83.3" r="4.85" fill="#b4a8a6"/>
<circle cx="70.9" cy="84.5" r="4.85" fill="#b4a8a6"/>
<circle cx="81.9" cy="81.6" r="4.85" fill="#b4a8a6"/>
<circle cx="92.9" cy="81.0" r="4.85" fill="#b4a8a6"/>
<circle cx="104.4" cy="83.9" r="4.85" fill="#b4a8a6"/>
<circle cx="8.5" cy="1.8" r="2.80" fill="#9a808e" stroke="#7a5c70" stroke-width="1.5"/>
<circle cx="15.4" cy="5.9" r="2.80" fill="#9a808e" stroke="#7a5c70" stroke-width="1.5"/>
<circle cx="25.2" cy="5.9" r="2.80" fill="#9a808e" stroke="#7a5c70" stroke-width="1.5"/>
<circle cx="33.9" cy="3.0" r="2.80" fill="#9a808e" stroke="#7a5c70" stroke-width="1.5"/>
<circle cx="51.8" cy="6.4" r="2.80" fill="#9a808e" stroke="#7a5c70" stroke-width="1.5"/>
<circle cx="59.0" cy="3.6" r="2.80" fill="#9a808e" stroke="#7a5c70" stroke-width="1.5"/>
<circle cx="1.6" cy="7.0" r="2.80" fill="#9a808e" stroke="#7a5c70" stroke-width="1.5"/>
<circle cx="5.0" cy="12.2" r="2.80" fill="#9a808e" stroke="#7a5c70" stroke-width="1.5"/>
<circle cx="29.2" cy="15.7" r="2.80" fill="#9a808e" stroke="#7a5c70" stroke-width="1.5"/>
<circle cx="36.2" cy="15.7" r="2.80" fill="#9a808e" stroke="#7a5c70" stroke-width="1.5"/>
<circle cx="43.7" cy="13.9" r="2.80" fill="#9a808e" stroke="#7a5c70" stroke-width="1.5"/>
<circle cx="58.8" cy="15.4" r="2.80" fill="#9a808e" stroke="#7a5c70" stroke-width="1.5"/>
<circle cx="6.2" cy="19.7" r="2.80" fill="#9a808e" stroke="#7a5c70" stroke-width="1.5"/>
<circle cx="22.3" cy="19.1" r="2.80" fill="#9a808e" stroke="#7a5c70" stroke-width="1.5"/>
<circle cx="42.5" cy="20.3" r="2.80" fill="#9a808e" stroke="#7a5c70" stroke-width="1.5"/>
<circle cx="55.2" cy="24.3" r="2.80" fill="#9a808e" stroke="#7a5c70" stroke-width="1.5"/>
<circle cx="10.8" cy="24.3" r="2.80" fill="#9a808e" stroke="#7a5c70" stroke-width="1.5"/>
<circle cx="31.0" cy="24.3" r="2.80" fill="#9a808e" stroke="#7a5c70" stroke-width="1.5"/>
<circle cx="39.1" cy="26.6" r="2.80" fill="#9a808e" stroke="#7a5c70" stroke-width="1.5"/>
<circle cx="2.1" cy="25.5" r="2.80" fill="#9a808e" stroke="#7a5c70" stroke-width="1.5"/>
<circle cx="7.9" cy="31.8" r="2.80" fill="#9a808e" stroke="#7a5c70" stroke-width="1.5"/>
<circle cx="15.4" cy="31.3" r="2.80" fill="#9a808e" stroke="#7a5c70" stroke-width="1.5"/>
<circle cx="29.8" cy="33.6" r="2.80" fill="#9a808e" stroke="#7a5c70" stroke-width="1.5"/>
<circle cx="36.2" cy="34.7" r="2.80" fill="#9a808e" stroke="#7a5c70" stroke-width="1.5"/>
<circle cx="46.6" cy="35.3" r="2.80" fill="#9a808e" stroke="#7a5c70" stroke-width="1.5"/>
<circle cx="2.7" cy="43.4" r="2.80" fill="#9a808e" stroke="#7a5c70" stroke-width="1.5"/>
<circle cx="15.4" cy="40.5" r="2.80" fill="#9a808e" stroke="#7a5c70" stroke-width="1.5"/>
<circle cx="22.9" cy="37.0" r="2.80" fill="#9a808e" stroke="#7a5c70" stroke-width="1.5"/>
<circle cx="36.2" cy="42.8" r="2.80" fill="#9a808e" stroke="#7a5c70" stroke-width="1.5"/>
<circle cx="50.6" cy="39.9" r="2.80" fill="#9a808e" stroke="#7a5c70" stroke-width="1.5"/>
<circle cx="57.5" cy="38.2" r="2.80" fill="#9a808e" stroke="#7a5c70" stroke-width="1.5"/>
<circle cx="69.8" cy="3.6" r="2.80" fill="#9a808e" stroke="#7a5c70" stroke-width="1.5"/>
<circle cx="85.4" cy="3.0" r="2.80" fill="#9a808e" stroke="#7a5c70" stroke-width="1.5"/>
<circle cx="97.5" cy="2.4" r="2.80" fill="#9a808e" stroke="#7a5c70" stroke-width="1.5"/>
<circle cx="112.5" cy="3.6" r="2.80" fill="#9a808e" stroke="#7a5c70" stroke-width="1.5"/>
<circle cx="73.2" cy="9.9" r="2.80" fill="#9a808e" stroke="#7a5c70" stroke-width="1.5"/>
<circle cx="90.6" cy="7.6" r="2.80" fill="#9a808e" stroke="#7a5c70" stroke-width="1.5"/>
<circle cx="102.1" cy="10.5" r="2.80" fill="#9a808e" stroke="#7a5c70" stroke-width="1.5"/>
<circle cx="109.6" cy="11.6" r="2.80" fill="#9a808e" stroke="#7a5c70" stroke-width="1.5"/>
<circle cx="114.8" cy="9.3" r="2.80" fill="#9a808e" stroke="#7a5c70" stroke-width="1.5"/>
<circle cx="80.8" cy="13.4" r="2.80" fill="#9a808e" stroke="#7a5c70" stroke-width="1.5"/>
<circle cx="68.1" cy="19.1" r="2.80" fill="#9a808e" stroke="#7a5c70" stroke-width="1.5"/>
<circle cx="76.7" cy="19.7" r="2.80" fill="#9a808e" stroke="#7a5c70" stroke-width="1.5"/>
<circle cx="87.1" cy="18.6" r="2.80" fill="#9a808e" stroke="#7a5c70" stroke-width="1.5"/>
<circle cx="97.5" cy="18.6" r="2.80" fill="#9a808e" stroke="#7a5c70" stroke-width="1.5"/>
<circle cx="114.8" cy="16.3" r="2.80" fill="#9a808e" stroke="#7a5c70" stroke-width="1.5"/>
<circle cx="62.3" cy="27.8" r="2.80" fill="#9a808e" stroke="#7a5c70" stroke-width="1.5"/>
<circle cx="79.6" cy="26.6" r="2.80" fill="#9a808e" stroke="#7a5c70" stroke-width="1.5"/>
<circle cx="90.6" cy="28.4" r="2.80" fill="#9a808e" stroke="#7a5c70" stroke-width="1.5"/>
<circle cx="99.8" cy="28.4" r="2.80" fill="#9a808e" stroke="#7a5c70" stroke-width="1.5"/>
<circle cx="106.1" cy="30.1" r="2.80" fill="#9a808e" stroke="#7a5c70" stroke-width="1.5"/>
<circle cx="114.8" cy="27.8" r="2.80" fill="#9a808e" stroke="#7a5c70" stroke-width="1.5"/>
<circle cx="65.2" cy="33.6" r="2.80" fill="#9a808e" stroke="#7a5c70" stroke-width="1.5"/>
<circle cx="76.1" cy="34.1" r="2.80" fill="#9a808e" stroke="#7a5c70" stroke-width="1.5"/>
<circle cx="84.2" cy="34.7" r="2.80" fill="#9a808e" stroke="#7a5c70" stroke-width="1.5"/>
<circle cx="91.7" cy="34.7" r="2.80" fill="#9a808e" stroke="#7a5c70" stroke-width="1.5"/>
<circle cx="102.1" cy="33.6" r="2.80" fill="#9a808e" stroke="#7a5c70" stroke-width="1.5"/>
<circle cx="111.3" cy="34.7" r="2.80" fill="#9a808e" stroke="#7a5c70" stroke-width="1.5"/>
<circle cx="62.3" cy="42.2" r="2.80" fill="#9a808e" stroke="#7a5c70" stroke-width="1.5"/>
<circle cx="80.2" cy="41.1" r="2.80" fill="#9a808e" stroke="#7a5c70" stroke-width="1.5"/>
<circle cx="92.9" cy="39.9" r="2.80" fill="#9a808e" stroke="#7a5c70" stroke-width="1.5"/>
<circle cx="100.9" cy="40.5" r="2.80" fill="#9a808e" stroke="#7a5c70" stroke-width="1.5"/>
<circle cx="109.0" cy="39.9" r="2.80" fill="#9a808e" stroke="#7a5c70" stroke-width="1.5"/>
<circle cx="115.4" cy="39.3" r="2.80" fill="#9a808e" stroke="#7a5c70" stroke-width="1.5"/>
<circle cx="6.8" cy="51.0" r="2.80" fill="#9a808e" stroke="#7a5c70" stroke-width="1.5"/>
<circle cx="16.0" cy="49.9" r="2.80" fill="#9a808e" stroke="#7a5c70" stroke-width="1.5"/>
<circle cx="25.2" cy="48.7" r="2.80" fill="#9a808e" stroke="#7a5c70" stroke-width="1.5"/>
<circle cx="32.7" cy="48.7" r="2.80" fill="#9a808e" stroke="#7a5c70" stroke-width="1.5"/>
<circle cx="40.8" cy="49.3" r="2.80" fill="#9a808e" stroke="#7a5c70" stroke-width="1.5"/>
<circle cx="50.6" cy="50.4" r="2.80" fill="#9a808e" stroke="#7a5c70" stroke-width="1.5"/>
<circle cx="58.2" cy="48.7" r="2.80" fill="#9a808e" stroke="#7a5c70" stroke-width="1.5"/>
<circle cx="3.9" cy="58.5" r="2.80" fill="#9a808e" stroke="#7a5c70" stroke-width="1.5"/>
<circle cx="14.2" cy="58.5" r="2.80" fill="#9a808e" stroke="#7a5c70" stroke-width="1.5"/>
<circle cx="23.5" cy="54.5" r="2.80" fill="#9a808e" stroke="#7a5c70" stroke-width="1.5"/>
<circle cx="32.7" cy="56.2" r="2.80" fill="#9a808e" stroke="#7a5c70" stroke-width="1.5"/>
<circle cx="51.8" cy="58.5" r="2.80" fill="#9a808e" stroke="#7a5c70" stroke-width="1.5"/>
<circle cx="26.9" cy="61.4" r="2.80" fill="#9a808e" stroke="#7a5c70" stroke-width="1.5"/>
<circle cx="40.2" cy="62.0" r="2.80" fill="#9a808e" stroke="#7a5c70" stroke-width="1.5"/>
<circle cx="57.6" cy="64.9" r="2.80" fill="#9a808e" stroke="#7a5c70" stroke-width="1.5"/>
<circle cx="3.9" cy="70.6" r="2.80" fill="#9a808e" stroke="#7a5c70" stroke-width="1.5"/>
<circle cx="11.9" cy="67.2" r="2.80" fill="#9a808e" stroke="#7a5c70" stroke-width="1.5"/>
<circle cx="32.1" cy="66.6" r="2.80" fill="#9a808e" stroke="#7a5c70" stroke-width="1.5"/>
<circle cx="26.9" cy="72.4" r="2.80" fill="#9a808e" stroke="#7a5c70" stroke-width="1.5"/>
<circle cx="50.6" cy="73.8" r="2.80" fill="#9a808e" stroke="#7a5c70" stroke-width="1.5"/>
<circle cx="1.6" cy="77.6" r="2.80" fill="#9a808e" stroke="#7a5c70" stroke-width="1.5"/>
<circle cx="35.6" cy="77.6" r="2.80" fill="#9a808e" stroke="#7a5c70" stroke-width="1.5"/>
<circle cx="43.1" cy="75.8" r="2.80" fill="#9a808e" stroke="#7a5c70" stroke-width="1.5"/>
<circle cx="56.9" cy="78.7" r="2.80" fill="#9a808e" stroke="#7a5c70" stroke-width="1.5"/>
<circle cx="17.7" cy="81.0" r="2.80" fill="#9a808e" stroke="#7a5c70" stroke-width="1.5"/>
<circle cx="26.4" cy="82.8" r="2.80" fill="#9a808e" stroke="#7a5c70" stroke-width="1.5"/>
<circle cx="33.9" cy="85.6" r="2.80" fill="#9a808e" stroke="#7a5c70" stroke-width="1.5"/>
<circle cx="42.5" cy="82.2" r="2.80" fill="#9a808e" stroke="#7a5c70" stroke-width="1.5"/>
<circle cx="50.0" cy="83.3" r="2.80" fill="#9a808e" stroke="#7a5c70" stroke-width="1.5"/>
<circle cx="8.5" cy="87.4" r="2.80" fill="#9a808e" stroke="#7a5c70" stroke-width="1.5"/>
<circle cx="70.9" cy="46.4" r="2.80" fill="#9a808e" stroke="#7a5c70" stroke-width="1.5"/>
<circle cx="102.1" cy="49.3" r="2.80" fill="#9a808e" stroke="#7a5c70" stroke-width="1.5"/>
<circle cx="110.2" cy="48.1" r="2.80" fill="#9a808e" stroke="#7a5c70" stroke-width="1.5"/>
<circle cx="115.9" cy="49.3" r="2.80" fill="#9a808e" stroke="#7a5c70" stroke-width="1.5"/>
<circle cx="64.6" cy="53.9" r="2.80" fill="#9a808e" stroke="#7a5c70" stroke-width="1.5"/>
<circle cx="75.0" cy="52.2" r="2.80" fill="#9a808e" stroke="#7a5c70" stroke-width="1.5"/>
<circle cx="82.5" cy="56.8" r="2.80" fill="#9a808e" stroke="#7a5c70" stroke-width="1.5"/>
<circle cx="89.4" cy="54.5" r="2.80" fill="#9a808e" stroke="#7a5c70" stroke-width="1.5"/>
<circle cx="95.2" cy="54.5" r="2.80" fill="#9a808e" stroke="#7a5c70" stroke-width="1.5"/>
<circle cx="72.1" cy="60.3" r="2.80" fill="#9a808e" stroke="#7a5c70" stroke-width="1.5"/>
<circle cx="102.7" cy="59.1" r="2.80" fill="#9a808e" stroke="#7a5c70" stroke-width="1.5"/>
<circle cx="69.2" cy="67.2" r="2.80" fill="#9a808e" stroke="#7a5c70" stroke-width="1.5"/>
<circle cx="76.7" cy="66.0" r="2.80" fill="#9a808e" stroke="#7a5c70" stroke-width="1.5"/>
<circle cx="92.9" cy="66.0" r="2.80" fill="#9a808e" stroke="#7a5c70" stroke-width="1.5"/>
<circle cx="106.7" cy="66.6" r="2.80" fill="#9a808e" stroke="#7a5c70" stroke-width="1.5"/>
<circle cx="114.2" cy="67.2" r="2.80" fill="#9a808e" stroke="#7a5c70" stroke-width="1.5"/>
<circle cx="62.9" cy="73.5" r="2.80" fill="#9a808e" stroke="#7a5c70" stroke-width="1.5"/>
<circle cx="70.9" cy="76.4" r="2.80" fill="#9a808e" stroke="#7a5c70" stroke-width="1.5"/>
<circle cx="78.4" cy="75.8" r="2.80" fill="#9a808e" stroke="#7a5c70" stroke-width="1.5"/>
<circle cx="86.5" cy="76.4" r="2.80" fill="#9a808e" stroke="#7a5c70" stroke-width="1.5"/>
<circle cx="94.0" cy="74.1" r="2.80" fill="#9a808e" stroke="#7a5c70" stroke-width="1.5"/>
<circle cx="100.4" cy="72.4" r="2.80" fill="#9a808e" stroke="#7a5c70" stroke-width="1.5"/>
<circle cx="104.4" cy="75.8" r="2.80" fill="#9a808e" stroke="#7a5c70" stroke-width="1.5"/>
<circle cx="111.3" cy="75.3" r="2.80" fill="#9a808e" stroke="#7a5c70" stroke-width="1.5"/>
<circle cx="60.6" cy="83.3" r="2.80" fill="#9a808e" stroke="#7a5c70" stroke-width="1.5"/>
<circle cx="70.9" cy="84.5" r="2.80" fill="#9a808e" stroke="#7a5c70" stroke-width="1.5"/>
<circle cx="81.9" cy="81.6" r="2.80" fill="#9a808e" stroke="#7a5c70" stroke-width="1.5"/>
<circle cx="92.9" cy="81.0" r="2.80" fill="#9a808e" stroke="#7a5c70" stroke-width="1.5"/>
<circle cx="104.4" cy="83.9" r="2.80" fill="#9a808e" stroke="#7a5c70" stroke-width="1.5"/>
</g></svg>
<svg x="139.2" y="691.0" width="117.7" height="89.0" overflow="hidden">
<rect x="-2" y="-2" width="121.7" height="93.0" fill="#bead8e"/>
<g filter="url(#f)">
<circle cx="7.9" cy="2.5" r="4.70" fill="#b89c8c"/>
<circle cx="16.5" cy="2.5" r="4.70" fill="#b89c8c"/>
<circle cx="35.6" cy="3.0" r="4.70" fill="#b89c8c"/>
<circle cx="48.3" cy="1.3" r="4.70" fill="#b89c8c"/>
<circle cx="56.9" cy="3.0" r="4.70" fill="#b89c8c"/>
<circle cx="2.7" cy="8.8" r="4.70" fill="#b89c8c"/>
<circle cx="28.1" cy="7.1" r="4.70" fill="#b89c8c"/>
<circle cx="41.3" cy="7.7" r="4.70" fill="#b89c8c"/>
<circle cx="49.4" cy="11.1" r="4.70" fill="#b89c8c"/>
<circle cx="2.7" cy="15.2" r="4.70" fill="#b89c8c"/>
<circle cx="9.0" cy="17.5" r="4.70" fill="#b89c8c"/>
<circle cx="25.8" cy="16.3" r="4.70" fill="#b89c8c"/>
<circle cx="39.6" cy="15.2" r="4.70" fill="#b89c8c"/>
<circle cx="48.3" cy="16.9" r="4.70" fill="#b89c8c"/>
<circle cx="17.7" cy="20.9" r="4.70" fill="#b89c8c"/>
<circle cx="35.6" cy="22.1" r="4.70" fill="#b89c8c"/>
<circle cx="46.0" cy="22.7" r="4.70" fill="#b89c8c"/>
<circle cx="55.8" cy="23.2" r="4.70" fill="#b89c8c"/>
<circle cx="2.7" cy="27.3" r="4.70" fill="#b89c8c"/>
<circle cx="41.3" cy="28.4" r="4.70" fill="#b89c8c"/>
<circle cx="49.4" cy="29.0" r="4.70" fill="#b89c8c"/>
<circle cx="22.9" cy="31.9" r="4.70" fill="#b89c8c"/>
<circle cx="58.6" cy="32.5" r="4.70" fill="#b89c8c"/>
<circle cx="9.6" cy="38.8" r="4.70" fill="#b89c8c"/>
<circle cx="17.1" cy="39.4" r="4.70" fill="#b89c8c"/>
<circle cx="32.1" cy="38.2" r="4.70" fill="#b89c8c"/>
<circle cx="23.2" cy="43.1" r="4.70" fill="#b89c8c"/>
<circle cx="47.1" cy="37.1" r="4.70" fill="#b89c8c"/>
<circle cx="56.3" cy="38.8" r="4.70" fill="#b89c8c"/>
<circle cx="71.5" cy="3.6" r="4.70" fill="#b89c8c"/>
<circle cx="80.7" cy="4.8" r="4.70" fill="#b89c8c"/>
<circle cx="87.1" cy="3.6" r="4.70" fill="#b89c8c"/>
<circle cx="100.3" cy="1.3" r="4.70" fill="#b89c8c"/>
<circle cx="114.2" cy="3.6" r="4.70" fill="#b89c8c"/>
<circle cx="74.4" cy="8.8" r="4.70" fill="#b89c8c"/>
<circle cx="68.0" cy="12.3" r="4.70" fill="#b89c8c"/>
<circle cx="62.8" cy="19.2" r="4.70" fill="#b89c8c"/>
<circle cx="72.1" cy="19.2" r="4.70" fill="#b89c8c"/>
<circle cx="86.5" cy="18.6" r="4.70" fill="#b89c8c"/>
<circle cx="95.1" cy="16.9" r="4.70" fill="#b89c8c"/>
<circle cx="102.6" cy="15.7" r="4.70" fill="#b89c8c"/>
<circle cx="113.6" cy="18.0" r="4.70" fill="#b89c8c"/>
<circle cx="62.8" cy="23.2" r="4.70" fill="#b89c8c"/>
<circle cx="105.5" cy="22.7" r="4.70" fill="#b89c8c"/>
<circle cx="79.6" cy="27.8" r="4.70" fill="#b89c8c"/>
<circle cx="87.1" cy="27.8" r="4.70" fill="#b89c8c"/>
<circle cx="96.9" cy="27.8" r="4.70" fill="#b89c8c"/>
<circle cx="105.5" cy="29.0" r="4.70" fill="#b89c8c"/>
<circle cx="64.6" cy="31.9" r="4.70" fill="#b89c8c"/>
<circle cx="64.0" cy="37.1" r="4.70" fill="#b89c8c"/>
<circle cx="76.1" cy="37.7" r="4.70" fill="#b89c8c"/>
<circle cx="88.8" cy="36.5" r="4.70" fill="#b89c8c"/>
<circle cx="109.6" cy="37.7" r="4.70" fill="#b89c8c"/>
<circle cx="86.8" cy="43.7" r="4.70" fill="#b89c8c"/>
<circle cx="115.3" cy="41.7" r="4.70" fill="#b89c8c"/>
<circle cx="4.4" cy="44.0" r="4.70" fill="#b89c8c"/>
<circle cx="30.4" cy="46.3" r="4.70" fill="#b89c8c"/>
<circle cx="39.6" cy="45.7" r="4.70" fill="#b89c8c"/>
<circle cx="15.4" cy="50.3" r="4.70" fill="#b89c8c"/>
<circle cx="28.1" cy="52.7" r="4.70" fill="#b89c8c"/>
<circle cx="37.9" cy="55.0" r="4.70" fill="#b89c8c"/>
<circle cx="46.5" cy="52.1" r="4.70" fill="#b89c8c"/>
<circle cx="53.5" cy="56.7" r="4.70" fill="#b89c8c"/>
<circle cx="6.7" cy="56.7" r="4.70" fill="#b89c8c"/>
<circle cx="18.3" cy="57.3" r="4.70" fill="#b89c8c"/>
<circle cx="33.3" cy="59.6" r="4.70" fill="#b89c8c"/>
<circle cx="48.3" cy="60.7" r="4.70" fill="#b89c8c"/>
<circle cx="59.3" cy="57.3" r="4.70" fill="#b89c8c"/>
<circle cx="3.8" cy="63.0" r="4.70" fill="#b89c8c"/>
<circle cx="11.3" cy="61.3" r="4.70" fill="#b89c8c"/>
<circle cx="18.3" cy="65.3" r="4.70" fill="#b89c8c"/>
<circle cx="37.3" cy="67.1" r="4.70" fill="#b89c8c"/>
<circle cx="48.3" cy="67.1" r="4.70" fill="#b89c8c"/>
<circle cx="7.9" cy="73.4" r="4.70" fill="#b89c8c"/>
<circle cx="34.4" cy="74.6" r="4.70" fill="#b89c8c"/>
<circle cx="54.0" cy="70.5" r="4.70" fill="#b89c8c"/>
<circle cx="22.9" cy="76.9" r="4.70" fill="#b89c8c"/>
<circle cx="48.3" cy="76.3" r="4.70" fill="#b89c8c"/>
<circle cx="31.5" cy="82.7" r="4.70" fill="#b89c8c"/>
<circle cx="40.2" cy="80.9" r="4.70" fill="#b89c8c"/>
<circle cx="48.3" cy="83.8" r="4.70" fill="#b89c8c"/>
<circle cx="58.1" cy="83.2" r="4.70" fill="#b89c8c"/>
<circle cx="66.3" cy="46.3" r="4.70" fill="#b89c8c"/>
<circle cx="80.1" cy="48.6" r="4.70" fill="#b89c8c"/>
<circle cx="104.4" cy="45.2" r="4.70" fill="#b89c8c"/>
<circle cx="110.7" cy="44.6" r="4.70" fill="#b89c8c"/>
<circle cx="71.5" cy="51.5" r="4.70" fill="#b89c8c"/>
<circle cx="84.8" cy="55.0" r="4.70" fill="#b89c8c"/>
<circle cx="103.2" cy="50.9" r="4.70" fill="#b89c8c"/>
<circle cx="110.7" cy="50.9" r="4.70" fill="#b89c8c"/>
<circle cx="115.9" cy="50.3" r="4.70" fill="#b89c8c"/>
<circle cx="75.5" cy="57.3" r="4.70" fill="#b89c8c"/>
<circle cx="84.2" cy="63.0" r="4.70" fill="#b89c8c"/>
<circle cx="98.0" cy="62.5" r="4.70" fill="#b89c8c"/>
<circle cx="114.2" cy="61.9" r="4.70" fill="#b89c8c"/>
<circle cx="64.6" cy="67.7" r="4.70" fill="#b89c8c"/>
<circle cx="90.0" cy="67.1" r="4.70" fill="#b89c8c"/>
<circle cx="109.0" cy="67.7" r="4.70" fill="#b89c8c"/>
<circle cx="63.4" cy="74.0" r="4.70" fill="#b89c8c"/>
<circle cx="75.0" cy="73.4" r="4.70" fill="#b89c8c"/>
<circle cx="85.3" cy="76.3" r="4.70" fill="#b89c8c"/>
<circle cx="94.0" cy="73.4" r="4.70" fill="#b89c8c"/>
<circle cx="109.6" cy="74.6" r="4.70" fill="#b89c8c"/>
<circle cx="115.3" cy="71.7" r="4.70" fill="#b89c8c"/>
<circle cx="66.9" cy="80.9" r="4.70" fill="#b89c8c"/>
<circle cx="91.7" cy="80.9" r="4.70" fill="#b89c8c"/>
<circle cx="98.6" cy="82.7" r="4.70" fill="#b89c8c"/>
<circle cx="106.1" cy="83.8" r="4.70" fill="#b89c8c"/>
<circle cx="114.2" cy="82.1" r="4.70" fill="#b89c8c"/>
<circle cx="79.6" cy="87.3" r="4.70" fill="#b89c8c"/>
<circle cx="7.9" cy="2.5" r="2.65" fill="#ae9288" stroke="#96736e" stroke-width="1.5"/>
<circle cx="16.5" cy="2.5" r="2.65" fill="#ae9288" stroke="#96736e" stroke-width="1.5"/>
<circle cx="35.6" cy="3.0" r="2.65" fill="#ae9288" stroke="#96736e" stroke-width="1.5"/>
<circle cx="48.3" cy="1.3" r="2.65" fill="#ae9288" stroke="#96736e" stroke-width="1.5"/>
<circle cx="56.9" cy="3.0" r="2.65" fill="#ae9288" stroke="#96736e" stroke-width="1.5"/>
<circle cx="2.7" cy="8.8" r="2.65" fill="#ae9288" stroke="#96736e" stroke-width="1.5"/>
<circle cx="28.1" cy="7.1" r="2.65" fill="#ae9288" stroke="#96736e" stroke-width="1.5"/>
<circle cx="41.3" cy="7.7" r="2.65" fill="#ae9288" stroke="#96736e" stroke-width="1.5"/>
<circle cx="49.4" cy="11.1" r="2.65" fill="#ae9288" stroke="#96736e" stroke-width="1.5"/>
<circle cx="2.7" cy="15.2" r="2.65" fill="#ae9288" stroke="#96736e" stroke-width="1.5"/>
<circle cx="9.0" cy="17.5" r="2.65" fill="#ae9288" stroke="#96736e" stroke-width="1.5"/>
<circle cx="25.8" cy="16.3" r="2.65" fill="#ae9288" stroke="#96736e" stroke-width="1.5"/>
<circle cx="39.6" cy="15.2" r="2.65" fill="#ae9288" stroke="#96736e" stroke-width="1.5"/>
<circle cx="48.3" cy="16.9" r="2.65" fill="#ae9288" stroke="#96736e" stroke-width="1.5"/>
<circle cx="17.7" cy="20.9" r="2.65" fill="#ae9288" stroke="#96736e" stroke-width="1.5"/>
<circle cx="35.6" cy="22.1" r="2.65" fill="#ae9288" stroke="#96736e" stroke-width="1.5"/>
<circle cx="46.0" cy="22.7" r="2.65" fill="#ae9288" stroke="#96736e" stroke-width="1.5"/>
<circle cx="55.8" cy="23.2" r="2.65" fill="#ae9288" stroke="#96736e" stroke-width="1.5"/>
<circle cx="2.7" cy="27.3" r="2.65" fill="#ae9288" stroke="#96736e" stroke-width="1.5"/>
<circle cx="41.3" cy="28.4" r="2.65" fill="#ae9288" stroke="#96736e" stroke-width="1.5"/>
<circle cx="49.4" cy="29.0" r="2.65" fill="#ae9288" stroke="#96736e" stroke-width="1.5"/>
<circle cx="22.9" cy="31.9" r="2.65" fill="#ae9288" stroke="#96736e" stroke-width="1.5"/>
<circle cx="58.6" cy="32.5" r="2.65" fill="#ae9288" stroke="#96736e" stroke-width="1.5"/>
<circle cx="9.6" cy="38.8" r="2.65" fill="#ae9288" stroke="#96736e" stroke-width="1.5"/>
<circle cx="17.1" cy="39.4" r="2.65" fill="#ae9288" stroke="#96736e" stroke-width="1.5"/>
<circle cx="32.1" cy="38.2" r="2.65" fill="#ae9288" stroke="#96736e" stroke-width="1.5"/>
<circle cx="23.2" cy="43.1" r="2.65" fill="#ae9288" stroke="#96736e" stroke-width="1.5"/>
<circle cx="47.1" cy="37.1" r="2.65" fill="#ae9288" stroke="#96736e" stroke-width="1.5"/>
<circle cx="56.3" cy="38.8" r="2.65" fill="#ae9288" stroke="#96736e" stroke-width="1.5"/>
<circle cx="71.5" cy="3.6" r="2.65" fill="#ae9288" stroke="#96736e" stroke-width="1.5"/>
<circle cx="80.7" cy="4.8" r="2.65" fill="#ae9288" stroke="#96736e" stroke-width="1.5"/>
<circle cx="87.1" cy="3.6" r="2.65" fill="#ae9288" stroke="#96736e" stroke-width="1.5"/>
<circle cx="100.3" cy="1.3" r="2.65" fill="#ae9288" stroke="#96736e" stroke-width="1.5"/>
<circle cx="114.2" cy="3.6" r="2.65" fill="#ae9288" stroke="#96736e" stroke-width="1.5"/>
<circle cx="74.4" cy="8.8" r="2.65" fill="#ae9288" stroke="#96736e" stroke-width="1.5"/>
<circle cx="68.0" cy="12.3" r="2.65" fill="#ae9288" stroke="#96736e" stroke-width="1.5"/>
<circle cx="62.8" cy="19.2" r="2.65" fill="#ae9288" stroke="#96736e" stroke-width="1.5"/>
<circle cx="72.1" cy="19.2" r="2.65" fill="#ae9288" stroke="#96736e" stroke-width="1.5"/>
<circle cx="86.5" cy="18.6" r="2.65" fill="#ae9288" stroke="#96736e" stroke-width="1.5"/>
<circle cx="95.1" cy="16.9" r="2.65" fill="#ae9288" stroke="#96736e" stroke-width="1.5"/>
<circle cx="102.6" cy="15.7" r="2.65" fill="#ae9288" stroke="#96736e" stroke-width="1.5"/>
<circle cx="113.6" cy="18.0" r="2.65" fill="#ae9288" stroke="#96736e" stroke-width="1.5"/>
<circle cx="62.8" cy="23.2" r="2.65" fill="#ae9288" stroke="#96736e" stroke-width="1.5"/>
<circle cx="105.5" cy="22.7" r="2.65" fill="#ae9288" stroke="#96736e" stroke-width="1.5"/>
<circle cx="79.6" cy="27.8" r="2.65" fill="#ae9288" stroke="#96736e" stroke-width="1.5"/>
<circle cx="87.1" cy="27.8" r="2.65" fill="#ae9288" stroke="#96736e" stroke-width="1.5"/>
<circle cx="96.9" cy="27.8" r="2.65" fill="#ae9288" stroke="#96736e" stroke-width="1.5"/>
<circle cx="105.5" cy="29.0" r="2.65" fill="#ae9288" stroke="#96736e" stroke-width="1.5"/>
<circle cx="64.6" cy="31.9" r="2.65" fill="#ae9288" stroke="#96736e" stroke-width="1.5"/>
<circle cx="64.0" cy="37.1" r="2.65" fill="#ae9288" stroke="#96736e" stroke-width="1.5"/>
<circle cx="76.1" cy="37.7" r="2.65" fill="#ae9288" stroke="#96736e" stroke-width="1.5"/>
<circle cx="88.8" cy="36.5" r="2.65" fill="#ae9288" stroke="#96736e" stroke-width="1.5"/>
<circle cx="109.6" cy="37.7" r="2.65" fill="#ae9288" stroke="#96736e" stroke-width="1.5"/>
<circle cx="86.8" cy="43.7" r="2.65" fill="#ae9288" stroke="#96736e" stroke-width="1.5"/>
<circle cx="115.3" cy="41.7" r="2.65" fill="#ae9288" stroke="#96736e" stroke-width="1.5"/>
<circle cx="4.4" cy="44.0" r="2.65" fill="#ae9288" stroke="#96736e" stroke-width="1.5"/>
<circle cx="30.4" cy="46.3" r="2.65" fill="#ae9288" stroke="#96736e" stroke-width="1.5"/>
<circle cx="39.6" cy="45.7" r="2.65" fill="#ae9288" stroke="#96736e" stroke-width="1.5"/>
<circle cx="15.4" cy="50.3" r="2.65" fill="#ae9288" stroke="#96736e" stroke-width="1.5"/>
<circle cx="28.1" cy="52.7" r="2.65" fill="#ae9288" stroke="#96736e" stroke-width="1.5"/>
<circle cx="37.9" cy="55.0" r="2.65" fill="#ae9288" stroke="#96736e" stroke-width="1.5"/>
<circle cx="46.5" cy="52.1" r="2.65" fill="#ae9288" stroke="#96736e" stroke-width="1.5"/>
<circle cx="53.5" cy="56.7" r="2.65" fill="#ae9288" stroke="#96736e" stroke-width="1.5"/>
<circle cx="6.7" cy="56.7" r="2.65" fill="#ae9288" stroke="#96736e" stroke-width="1.5"/>
<circle cx="18.3" cy="57.3" r="2.65" fill="#ae9288" stroke="#96736e" stroke-width="1.5"/>
<circle cx="33.3" cy="59.6" r="2.65" fill="#ae9288" stroke="#96736e" stroke-width="1.5"/>
<circle cx="48.3" cy="60.7" r="2.65" fill="#ae9288" stroke="#96736e" stroke-width="1.5"/>
<circle cx="59.3" cy="57.3" r="2.65" fill="#ae9288" stroke="#96736e" stroke-width="1.5"/>
<circle cx="3.8" cy="63.0" r="2.65" fill="#ae9288" stroke="#96736e" stroke-width="1.5"/>
<circle cx="11.3" cy="61.3" r="2.65" fill="#ae9288" stroke="#96736e" stroke-width="1.5"/>
<circle cx="18.3" cy="65.3" r="2.65" fill="#ae9288" stroke="#96736e" stroke-width="1.5"/>
<circle cx="37.3" cy="67.1" r="2.65" fill="#ae9288" stroke="#96736e" stroke-width="1.5"/>
<circle cx="48.3" cy="67.1" r="2.65" fill="#ae9288" stroke="#96736e" stroke-width="1.5"/>
<circle cx="7.9" cy="73.4" r="2.65" fill="#ae9288" stroke="#96736e" stroke-width="1.5"/>
<circle cx="34.4" cy="74.6" r="2.65" fill="#ae9288" stroke="#96736e" stroke-width="1.5"/>
<circle cx="54.0" cy="70.5" r="2.65" fill="#ae9288" stroke="#96736e" stroke-width="1.5"/>
<circle cx="22.9" cy="76.9" r="2.65" fill="#ae9288" stroke="#96736e" stroke-width="1.5"/>
<circle cx="48.3" cy="76.3" r="2.65" fill="#ae9288" stroke="#96736e" stroke-width="1.5"/>
<circle cx="31.5" cy="82.7" r="2.65" fill="#ae9288" stroke="#96736e" stroke-width="1.5"/>
<circle cx="40.2" cy="80.9" r="2.65" fill="#ae9288" stroke="#96736e" stroke-width="1.5"/>
<circle cx="48.3" cy="83.8" r="2.65" fill="#ae9288" stroke="#96736e" stroke-width="1.5"/>
<circle cx="58.1" cy="83.2" r="2.65" fill="#ae9288" stroke="#96736e" stroke-width="1.5"/>
<circle cx="66.3" cy="46.3" r="2.65" fill="#ae9288" stroke="#96736e" stroke-width="1.5"/>
<circle cx="80.1" cy="48.6" r="2.65" fill="#ae9288" stroke="#96736e" stroke-width="1.5"/>
<circle cx="104.4" cy="45.2" r="2.65" fill="#ae9288" stroke="#96736e" stroke-width="1.5"/>
<circle cx="110.7" cy="44.6" r="2.65" fill="#ae9288" stroke="#96736e" stroke-width="1.5"/>
<circle cx="71.5" cy="51.5" r="2.65" fill="#ae9288" stroke="#96736e" stroke-width="1.5"/>
<circle cx="84.8" cy="55.0" r="2.65" fill="#ae9288" stroke="#96736e" stroke-width="1.5"/>
<circle cx="103.2" cy="50.9" r="2.65" fill="#ae9288" stroke="#96736e" stroke-width="1.5"/>
<circle cx="110.7" cy="50.9" r="2.65" fill="#ae9288" stroke="#96736e" stroke-width="1.5"/>
<circle cx="115.9" cy="50.3" r="2.65" fill="#ae9288" stroke="#96736e" stroke-width="1.5"/>
<circle cx="75.5" cy="57.3" r="2.65" fill="#ae9288" stroke="#96736e" stroke-width="1.5"/>
<circle cx="84.2" cy="63.0" r="2.65" fill="#ae9288" stroke="#96736e" stroke-width="1.5"/>
<circle cx="98.0" cy="62.5" r="2.65" fill="#ae9288" stroke="#96736e" stroke-width="1.5"/>
<circle cx="114.2" cy="61.9" r="2.65" fill="#ae9288" stroke="#96736e" stroke-width="1.5"/>
<circle cx="64.6" cy="67.7" r="2.65" fill="#ae9288" stroke="#96736e" stroke-width="1.5"/>
<circle cx="90.0" cy="67.1" r="2.65" fill="#ae9288" stroke="#96736e" stroke-width="1.5"/>
<circle cx="109.0" cy="67.7" r="2.65" fill="#ae9288" stroke="#96736e" stroke-width="1.5"/>
<circle cx="63.4" cy="74.0" r="2.65" fill="#ae9288" stroke="#96736e" stroke-width="1.5"/>
<circle cx="75.0" cy="73.4" r="2.65" fill="#ae9288" stroke="#96736e" stroke-width="1.5"/>
<circle cx="85.3" cy="76.3" r="2.65" fill="#ae9288" stroke="#96736e" stroke-width="1.5"/>
<circle cx="94.0" cy="73.4" r="2.65" fill="#ae9288" stroke="#96736e" stroke-width="1.5"/>
<circle cx="109.6" cy="74.6" r="2.65" fill="#ae9288" stroke="#96736e" stroke-width="1.5"/>
<circle cx="115.3" cy="71.7" r="2.65" fill="#ae9288" stroke="#96736e" stroke-width="1.5"/>
<circle cx="66.9" cy="80.9" r="2.65" fill="#ae9288" stroke="#96736e" stroke-width="1.5"/>
<circle cx="91.7" cy="80.9" r="2.65" fill="#ae9288" stroke="#96736e" stroke-width="1.5"/>
<circle cx="98.6" cy="82.7" r="2.65" fill="#ae9288" stroke="#96736e" stroke-width="1.5"/>
<circle cx="106.1" cy="83.8" r="2.65" fill="#ae9288" stroke="#96736e" stroke-width="1.5"/>
<circle cx="114.2" cy="82.1" r="2.65" fill="#ae9288" stroke="#96736e" stroke-width="1.5"/>
<circle cx="79.6" cy="87.3" r="2.65" fill="#ae9288" stroke="#96736e" stroke-width="1.5"/>
</g></svg>
<svg x="265.9" y="691.3" width="117.7" height="88.7" overflow="hidden">
<rect x="-2" y="-2" width="121.7" height="92.7" fill="#c4ac94"/>
<g filter="url(#f)">
<circle cx="6.0" cy="7.4" r="4.70" fill="#bc9c92"/>
<circle cx="12.9" cy="10.8" r="4.70" fill="#bc9c92"/>
<circle cx="38.3" cy="3.3" r="4.70" fill="#bc9c92"/>
<circle cx="51.0" cy="2.2" r="4.70" fill="#bc9c92"/>
<circle cx="54.5" cy="6.8" r="4.70" fill="#bc9c92"/>
<circle cx="33.7" cy="9.7" r="4.70" fill="#bc9c92"/>
<circle cx="40.1" cy="12.5" r="4.70" fill="#bc9c92"/>
<circle cx="47.6" cy="11.4" r="4.70" fill="#bc9c92"/>
<circle cx="6.0" cy="17.7" r="4.70" fill="#bc9c92"/>
<circle cx="26.8" cy="14.3" r="4.70" fill="#bc9c92"/>
<circle cx="55.6" cy="14.9" r="4.70" fill="#bc9c92"/>
<circle cx="1.4" cy="21.8" r="4.70" fill="#bc9c92"/>
<circle cx="24.5" cy="21.8" r="4.70" fill="#bc9c92"/>
<circle cx="46.4" cy="20.0" r="4.70" fill="#bc9c92"/>
<circle cx="58.6" cy="21.5" r="4.70" fill="#bc9c92"/>
<circle cx="3.1" cy="26.4" r="4.70" fill="#bc9c92"/>
<circle cx="30.8" cy="27.5" r="4.70" fill="#bc9c92"/>
<circle cx="42.9" cy="28.1" r="4.70" fill="#bc9c92"/>
<circle cx="50.4" cy="25.8" r="4.70" fill="#bc9c92"/>
<circle cx="22.2" cy="31.0" r="4.70" fill="#bc9c92"/>
<circle cx="55.6" cy="32.7" r="4.70" fill="#bc9c92"/>
<circle cx="17.6" cy="37.4" r="4.70" fill="#bc9c92"/>
<circle cx="29.7" cy="35.0" r="4.70" fill="#bc9c92"/>
<circle cx="36.0" cy="37.9" r="4.70" fill="#bc9c92"/>
<circle cx="51.0" cy="39.1" r="4.70" fill="#bc9c92"/>
<circle cx="33.1" cy="44.0" r="4.70" fill="#bc9c92"/>
<circle cx="76.6" cy="1.6" r="4.70" fill="#bc9c92"/>
<circle cx="81.2" cy="4.5" r="4.70" fill="#bc9c92"/>
<circle cx="89.3" cy="2.2" r="4.70" fill="#bc9c92"/>
<circle cx="103.1" cy="1.6" r="4.70" fill="#bc9c92"/>
<circle cx="113.5" cy="3.3" r="4.70" fill="#bc9c92"/>
<circle cx="75.4" cy="9.7" r="4.70" fill="#bc9c92"/>
<circle cx="89.3" cy="8.5" r="4.70" fill="#bc9c92"/>
<circle cx="98.5" cy="12.0" r="4.70" fill="#bc9c92"/>
<circle cx="113.5" cy="10.8" r="4.70" fill="#bc9c92"/>
<circle cx="60.4" cy="16.0" r="4.70" fill="#bc9c92"/>
<circle cx="70.8" cy="18.3" r="4.70" fill="#bc9c92"/>
<circle cx="78.3" cy="17.2" r="4.70" fill="#bc9c92"/>
<circle cx="93.3" cy="16.0" r="4.70" fill="#bc9c92"/>
<circle cx="114.6" cy="16.0" r="4.70" fill="#bc9c92"/>
<circle cx="66.8" cy="25.8" r="4.70" fill="#bc9c92"/>
<circle cx="80.0" cy="23.5" r="4.70" fill="#bc9c92"/>
<circle cx="110.0" cy="21.8" r="4.70" fill="#bc9c92"/>
<circle cx="86.9" cy="27.5" r="4.70" fill="#bc9c92"/>
<circle cx="94.4" cy="31.0" r="4.70" fill="#bc9c92"/>
<circle cx="115.8" cy="29.3" r="4.70" fill="#bc9c92"/>
<circle cx="74.3" cy="34.5" r="4.70" fill="#bc9c92"/>
<circle cx="85.8" cy="36.2" r="4.70" fill="#bc9c92"/>
<circle cx="106.6" cy="37.4" r="4.70" fill="#bc9c92"/>
<circle cx="115.8" cy="36.2" r="4.70" fill="#bc9c92"/>
<circle cx="67.3" cy="39.7" r="4.70" fill="#bc9c92"/>
<circle cx="93.9" cy="39.7" r="4.70" fill="#bc9c92"/>
<circle cx="60.4" cy="37.9" r="4.70" fill="#bc9c92"/>
<circle cx="15.3" cy="46.0" r="4.70" fill="#bc9c92"/>
<circle cx="56.8" cy="47.2" r="4.70" fill="#bc9c92"/>
<circle cx="9.5" cy="50.0" r="4.70" fill="#bc9c92"/>
<circle cx="34.9" cy="52.4" r="4.70" fill="#bc9c92"/>
<circle cx="46.4" cy="51.8" r="4.70" fill="#bc9c92"/>
<circle cx="6.0" cy="57.0" r="4.70" fill="#bc9c92"/>
<circle cx="53.3" cy="58.1" r="4.70" fill="#bc9c92"/>
<circle cx="3.7" cy="63.9" r="4.70" fill="#bc9c92"/>
<circle cx="27.4" cy="64.5" r="4.70" fill="#bc9c92"/>
<circle cx="51.0" cy="65.6" r="4.70" fill="#bc9c92"/>
<circle cx="19.3" cy="69.7" r="4.70" fill="#bc9c92"/>
<circle cx="27.9" cy="72.0" r="4.70" fill="#bc9c92"/>
<circle cx="51.6" cy="73.1" r="4.70" fill="#bc9c92"/>
<circle cx="21.0" cy="75.4" r="4.70" fill="#bc9c92"/>
<circle cx="56.8" cy="70.2" r="4.70" fill="#bc9c92"/>
<circle cx="6.0" cy="81.8" r="4.70" fill="#bc9c92"/>
<circle cx="14.7" cy="82.4" r="4.70" fill="#bc9c92"/>
<circle cx="26.2" cy="82.4" r="4.70" fill="#bc9c92"/>
<circle cx="38.9" cy="80.6" r="4.70" fill="#bc9c92"/>
<circle cx="45.3" cy="82.4" r="4.70" fill="#bc9c92"/>
<circle cx="52.2" cy="80.0" r="4.70" fill="#bc9c92"/>
<circle cx="1.4" cy="87.5" r="4.70" fill="#bc9c92"/>
<circle cx="18.7" cy="87.5" r="4.70" fill="#bc9c92"/>
<circle cx="47.6" cy="87.5" r="4.70" fill="#bc9c92"/>
<circle cx="60.4" cy="45.4" r="4.70" fill="#bc9c92"/>
<circle cx="66.8" cy="48.9" r="4.70" fill="#bc9c92"/>
<circle cx="74.8" cy="47.7" r="4.70" fill="#bc9c92"/>
<circle cx="86.9" cy="45.4" r="4.70" fill="#bc9c92"/>
<circle cx="106.6" cy="50.0" r="4.70" fill="#bc9c92"/>
<circle cx="115.2" cy="46.6" r="4.70" fill="#bc9c92"/>
<circle cx="59.8" cy="54.1" r="4.70" fill="#bc9c92"/>
<circle cx="77.7" cy="54.7" r="4.70" fill="#bc9c92"/>
<circle cx="112.3" cy="57.0" r="4.70" fill="#bc9c92"/>
<circle cx="86.9" cy="61.6" r="4.70" fill="#bc9c92"/>
<circle cx="100.8" cy="62.2" r="4.70" fill="#bc9c92"/>
<circle cx="108.9" cy="59.9" r="4.70" fill="#bc9c92"/>
<circle cx="59.3" cy="64.5" r="4.70" fill="#bc9c92"/>
<circle cx="66.2" cy="66.8" r="4.70" fill="#bc9c92"/>
<circle cx="84.6" cy="67.9" r="4.70" fill="#bc9c92"/>
<circle cx="112.3" cy="67.9" r="4.70" fill="#bc9c92"/>
<circle cx="70.2" cy="74.9" r="4.70" fill="#bc9c92"/>
<circle cx="82.3" cy="74.9" r="4.70" fill="#bc9c92"/>
<circle cx="100.8" cy="77.2" r="4.70" fill="#bc9c92"/>
<circle cx="107.7" cy="74.9" r="4.70" fill="#bc9c92"/>
<circle cx="115.2" cy="74.9" r="4.70" fill="#bc9c92"/>
<circle cx="64.4" cy="79.5" r="4.70" fill="#bc9c92"/>
<circle cx="112.3" cy="81.8" r="4.70" fill="#bc9c92"/>
<circle cx="103.7" cy="80.6" r="4.70" fill="#bc9c92"/>
<circle cx="70.8" cy="85.2" r="4.70" fill="#bc9c92"/>
<circle cx="84.6" cy="84.1" r="4.70" fill="#bc9c92"/>
<circle cx="99.6" cy="85.2" r="4.70" fill="#bc9c92"/>
<circle cx="6.0" cy="7.4" r="2.65" fill="#b89492" stroke="#a2747a" stroke-width="1.5"/>
<circle cx="12.9" cy="10.8" r="2.65" fill="#b89492" stroke="#a2747a" stroke-width="1.5"/>
<circle cx="38.3" cy="3.3" r="2.65" fill="#b89492" stroke="#a2747a" stroke-width="1.5"/>
<circle cx="51.0" cy="2.2" r="2.65" fill="#b89492" stroke="#a2747a" stroke-width="1.5"/>
<circle cx="54.5" cy="6.8" r="2.65" fill="#b89492" stroke="#a2747a" stroke-width="1.5"/>
<circle cx="33.7" cy="9.7" r="2.65" fill="#b89492" stroke="#a2747a" stroke-width="1.5"/>
<circle cx="40.1" cy="12.5" r="2.65" fill="#b89492" stroke="#a2747a" stroke-width="1.5"/>
<circle cx="47.6" cy="11.4" r="2.65" fill="#b89492" stroke="#a2747a" stroke-width="1.5"/>
<circle cx="6.0" cy="17.7" r="2.65" fill="#b89492" stroke="#a2747a" stroke-width="1.5"/>
<circle cx="26.8" cy="14.3" r="2.65" fill="#b89492" stroke="#a2747a" stroke-width="1.5"/>
<circle cx="55.6" cy="14.9" r="2.65" fill="#b89492" stroke="#a2747a" stroke-width="1.5"/>
<circle cx="1.4" cy="21.8" r="2.65" fill="#b89492" stroke="#a2747a" stroke-width="1.5"/>
<circle cx="24.5" cy="21.8" r="2.65" fill="#b89492" stroke="#a2747a" stroke-width="1.5"/>
<circle cx="46.4" cy="20.0" r="2.65" fill="#b89492" stroke="#a2747a" stroke-width="1.5"/>
<circle cx="58.6" cy="21.5" r="2.65" fill="#b89492" stroke="#a2747a" stroke-width="1.5"/>
<circle cx="3.1" cy="26.4" r="2.65" fill="#b89492" stroke="#a2747a" stroke-width="1.5"/>
<circle cx="30.8" cy="27.5" r="2.65" fill="#b89492" stroke="#a2747a" stroke-width="1.5"/>
<circle cx="42.9" cy="28.1" r="2.65" fill="#b89492" stroke="#a2747a" stroke-width="1.5"/>
<circle cx="50.4" cy="25.8" r="2.65" fill="#b89492" stroke="#a2747a" stroke-width="1.5"/>
<circle cx="22.2" cy="31.0" r="2.65" fill="#b89492" stroke="#a2747a" stroke-width="1.5"/>
<circle cx="55.6" cy="32.7" r="2.65" fill="#b89492" stroke="#a2747a" stroke-width="1.5"/>
<circle cx="17.6" cy="37.4" r="2.65" fill="#b89492" stroke="#a2747a" stroke-width="1.5"/>
<circle cx="29.7" cy="35.0" r="2.65" fill="#b89492" stroke="#a2747a" stroke-width="1.5"/>
<circle cx="36.0" cy="37.9" r="2.65" fill="#b89492" stroke="#a2747a" stroke-width="1.5"/>
<circle cx="51.0" cy="39.1" r="2.65" fill="#b89492" stroke="#a2747a" stroke-width="1.5"/>
<circle cx="33.1" cy="44.0" r="2.65" fill="#b89492" stroke="#a2747a" stroke-width="1.5"/>
<circle cx="76.6" cy="1.6" r="2.65" fill="#b89492" stroke="#a2747a" stroke-width="1.5"/>
<circle cx="81.2" cy="4.5" r="2.65" fill="#b89492" stroke="#a2747a" stroke-width="1.5"/>
<circle cx="89.3" cy="2.2" r="2.65" fill="#b89492" stroke="#a2747a" stroke-width="1.5"/>
<circle cx="103.1" cy="1.6" r="2.65" fill="#b89492" stroke="#a2747a" stroke-width="1.5"/>
<circle cx="113.5" cy="3.3" r="2.65" fill="#b89492" stroke="#a2747a" stroke-width="1.5"/>
<circle cx="75.4" cy="9.7" r="2.65" fill="#b89492" stroke="#a2747a" stroke-width="1.5"/>
<circle cx="89.3" cy="8.5" r="2.65" fill="#b89492" stroke="#a2747a" stroke-width="1.5"/>
<circle cx="98.5" cy="12.0" r="2.65" fill="#b89492" stroke="#a2747a" stroke-width="1.5"/>
<circle cx="113.5" cy="10.8" r="2.65" fill="#b89492" stroke="#a2747a" stroke-width="1.5"/>
<circle cx="60.4" cy="16.0" r="2.65" fill="#b89492" stroke="#a2747a" stroke-width="1.5"/>
<circle cx="70.8" cy="18.3" r="2.65" fill="#b89492" stroke="#a2747a" stroke-width="1.5"/>
<circle cx="78.3" cy="17.2" r="2.65" fill="#b89492" stroke="#a2747a" stroke-width="1.5"/>
<circle cx="93.3" cy="16.0" r="2.65" fill="#b89492" stroke="#a2747a" stroke-width="1.5"/>
<circle cx="114.6" cy="16.0" r="2.65" fill="#b89492" stroke="#a2747a" stroke-width="1.5"/>
<circle cx="66.8" cy="25.8" r="2.65" fill="#b89492" stroke="#a2747a" stroke-width="1.5"/>
<circle cx="80.0" cy="23.5" r="2.65" fill="#b89492" stroke="#a2747a" stroke-width="1.5"/>
<circle cx="110.0" cy="21.8" r="2.65" fill="#b89492" stroke="#a2747a" stroke-width="1.5"/>
<circle cx="86.9" cy="27.5" r="2.65" fill="#b89492" stroke="#a2747a" stroke-width="1.5"/>
<circle cx="94.4" cy="31.0" r="2.65" fill="#b89492" stroke="#a2747a" stroke-width="1.5"/>
<circle cx="115.8" cy="29.3" r="2.65" fill="#b89492" stroke="#a2747a" stroke-width="1.5"/>
<circle cx="74.3" cy="34.5" r="2.65" fill="#b89492" stroke="#a2747a" stroke-width="1.5"/>
<circle cx="85.8" cy="36.2" r="2.65" fill="#b89492" stroke="#a2747a" stroke-width="1.5"/>
<circle cx="106.6" cy="37.4" r="2.65" fill="#b89492" stroke="#a2747a" stroke-width="1.5"/>
<circle cx="115.8" cy="36.2" r="2.65" fill="#b89492" stroke="#a2747a" stroke-width="1.5"/>
<circle cx="67.3" cy="39.7" r="2.65" fill="#b89492" stroke="#a2747a" stroke-width="1.5"/>
<circle cx="93.9" cy="39.7" r="2.65" fill="#b89492" stroke="#a2747a" stroke-width="1.5"/>
<circle cx="60.4" cy="37.9" r="2.65" fill="#b89492" stroke="#a2747a" stroke-width="1.5"/>
<circle cx="15.3" cy="46.0" r="2.65" fill="#b89492" stroke="#a2747a" stroke-width="1.5"/>
<circle cx="56.8" cy="47.2" r="2.65" fill="#b89492" stroke="#a2747a" stroke-width="1.5"/>
<circle cx="9.5" cy="50.0" r="2.65" fill="#b89492" stroke="#a2747a" stroke-width="1.5"/>
<circle cx="34.9" cy="52.4" r="2.65" fill="#b89492" stroke="#a2747a" stroke-width="1.5"/>
<circle cx="46.4" cy="51.8" r="2.65" fill="#b89492" stroke="#a2747a" stroke-width="1.5"/>
<circle cx="6.0" cy="57.0" r="2.65" fill="#b89492" stroke="#a2747a" stroke-width="1.5"/>
<circle cx="53.3" cy="58.1" r="2.65" fill="#b89492" stroke="#a2747a" stroke-width="1.5"/>
<circle cx="3.7" cy="63.9" r="2.65" fill="#b89492" stroke="#a2747a" stroke-width="1.5"/>
<circle cx="27.4" cy="64.5" r="2.65" fill="#b89492" stroke="#a2747a" stroke-width="1.5"/>
<circle cx="51.0" cy="65.6" r="2.65" fill="#b89492" stroke="#a2747a" stroke-width="1.5"/>
<circle cx="19.3" cy="69.7" r="2.65" fill="#b89492" stroke="#a2747a" stroke-width="1.5"/>
<circle cx="27.9" cy="72.0" r="2.65" fill="#b89492" stroke="#a2747a" stroke-width="1.5"/>
<circle cx="51.6" cy="73.1" r="2.65" fill="#b89492" stroke="#a2747a" stroke-width="1.5"/>
<circle cx="21.0" cy="75.4" r="2.65" fill="#b89492" stroke="#a2747a" stroke-width="1.5"/>
<circle cx="56.8" cy="70.2" r="2.65" fill="#b89492" stroke="#a2747a" stroke-width="1.5"/>
<circle cx="6.0" cy="81.8" r="2.65" fill="#b89492" stroke="#a2747a" stroke-width="1.5"/>
<circle cx="14.7" cy="82.4" r="2.65" fill="#b89492" stroke="#a2747a" stroke-width="1.5"/>
<circle cx="26.2" cy="82.4" r="2.65" fill="#b89492" stroke="#a2747a" stroke-width="1.5"/>
<circle cx="38.9" cy="80.6" r="2.65" fill="#b89492" stroke="#a2747a" stroke-width="1.5"/>
<circle cx="45.3" cy="82.4" r="2.65" fill="#b89492" stroke="#a2747a" stroke-width="1.5"/>
<circle cx="52.2" cy="80.0" r="2.65" fill="#b89492" stroke="#a2747a" stroke-width="1.5"/>
<circle cx="1.4" cy="87.5" r="2.65" fill="#b89492" stroke="#a2747a" stroke-width="1.5"/>
<circle cx="18.7" cy="87.5" r="2.65" fill="#b89492" stroke="#a2747a" stroke-width="1.5"/>
<circle cx="47.6" cy="87.5" r="2.65" fill="#b89492" stroke="#a2747a" stroke-width="1.5"/>
<circle cx="60.4" cy="45.4" r="2.65" fill="#b89492" stroke="#a2747a" stroke-width="1.5"/>
<circle cx="66.8" cy="48.9" r="2.65" fill="#b89492" stroke="#a2747a" stroke-width="1.5"/>
<circle cx="74.8" cy="47.7" r="2.65" fill="#b89492" stroke="#a2747a" stroke-width="1.5"/>
<circle cx="86.9" cy="45.4" r="2.65" fill="#b89492" stroke="#a2747a" stroke-width="1.5"/>
<circle cx="106.6" cy="50.0" r="2.65" fill="#b89492" stroke="#a2747a" stroke-width="1.5"/>
<circle cx="115.2" cy="46.6" r="2.65" fill="#b89492" stroke="#a2747a" stroke-width="1.5"/>
<circle cx="59.8" cy="54.1" r="2.65" fill="#b89492" stroke="#a2747a" stroke-width="1.5"/>
<circle cx="77.7" cy="54.7" r="2.65" fill="#b89492" stroke="#a2747a" stroke-width="1.5"/>
<circle cx="112.3" cy="57.0" r="2.65" fill="#b89492" stroke="#a2747a" stroke-width="1.5"/>
<circle cx="86.9" cy="61.6" r="2.65" fill="#b89492" stroke="#a2747a" stroke-width="1.5"/>
<circle cx="100.8" cy="62.2" r="2.65" fill="#b89492" stroke="#a2747a" stroke-width="1.5"/>
<circle cx="108.9" cy="59.9" r="2.65" fill="#b89492" stroke="#a2747a" stroke-width="1.5"/>
<circle cx="59.3" cy="64.5" r="2.65" fill="#b89492" stroke="#a2747a" stroke-width="1.5"/>
<circle cx="66.2" cy="66.8" r="2.65" fill="#b89492" stroke="#a2747a" stroke-width="1.5"/>
<circle cx="84.6" cy="67.9" r="2.65" fill="#b89492" stroke="#a2747a" stroke-width="1.5"/>
<circle cx="112.3" cy="67.9" r="2.65" fill="#b89492" stroke="#a2747a" stroke-width="1.5"/>
<circle cx="70.2" cy="74.9" r="2.65" fill="#b89492" stroke="#a2747a" stroke-width="1.5"/>
<circle cx="82.3" cy="74.9" r="2.65" fill="#b89492" stroke="#a2747a" stroke-width="1.5"/>
<circle cx="100.8" cy="77.2" r="2.65" fill="#b89492" stroke="#a2747a" stroke-width="1.5"/>
<circle cx="107.7" cy="74.9" r="2.65" fill="#b89492" stroke="#a2747a" stroke-width="1.5"/>
<circle cx="115.2" cy="74.9" r="2.65" fill="#b89492" stroke="#a2747a" stroke-width="1.5"/>
<circle cx="64.4" cy="79.5" r="2.65" fill="#b89492" stroke="#a2747a" stroke-width="1.5"/>
<circle cx="112.3" cy="81.8" r="2.65" fill="#b89492" stroke="#a2747a" stroke-width="1.5"/>
<circle cx="103.7" cy="80.6" r="2.65" fill="#b89492" stroke="#a2747a" stroke-width="1.5"/>
<circle cx="70.8" cy="85.2" r="2.65" fill="#b89492" stroke="#a2747a" stroke-width="1.5"/>
<circle cx="84.6" cy="84.1" r="2.65" fill="#b89492" stroke="#a2747a" stroke-width="1.5"/>
<circle cx="99.6" cy="85.2" r="2.65" fill="#b89492" stroke="#a2747a" stroke-width="1.5"/>
</g></svg>
<line x1="373.5" y1="602.1" x2="371.2" y2="594.0" stroke="#000" stroke-width="1.4"/>
<polygon points="371.2,594.0 374.3,597.3 370.3,598.4" fill="#000"/>
<line x1="367.7" y1="611.3" x2="365.4" y2="603.2" stroke="#000" stroke-width="1.4"/>
<polygon points="365.4,603.2 368.5,606.5 364.5,607.6" fill="#000"/>
<line x1="336.5" y1="623.4" x2="335.4" y2="615.3" stroke="#000" stroke-width="1.4"/>
<polygon points="335.4,615.3 338.0,619.0 333.9,619.5" fill="#000"/>
<line x1="355.0" y1="627.5" x2="353.8" y2="619.4" stroke="#000" stroke-width="1.4"/>
<polygon points="353.8,619.4 356.5,623.0 352.3,623.7" fill="#000"/>
<line x1="311.6" y1="637.4" x2="309.3" y2="628.2" stroke="#000" stroke-width="1.4"/>
<polygon points="309.3,628.2 312.3,631.6 308.2,632.6" fill="#000"/>
<line x1="280.6" y1="708.5" x2="286.3" y2="711.9" stroke="#000" stroke-width="1.4"/>
<polygon points="286.3,711.9 281.8,711.7 283.9,708.0" fill="#000"/>
<line x1="274.8" y1="761.5" x2="281.2" y2="765.6" stroke="#000" stroke-width="1.4"/>
<polygon points="281.2,765.6 276.7,765.2 279.0,761.7" fill="#000"/>
<line x1="365.5" y1="748.3" x2="363.2" y2="740.2" stroke="#000" stroke-width="1.4"/>
<polygon points="363.2,740.2 366.3,743.5 362.3,744.6" fill="#000"/>
<line x1="346.5" y1="759.2" x2="344.2" y2="750.6" stroke="#000" stroke-width="1.4"/>
<polygon points="344.2,750.6 347.3,753.9 343.2,755.0" fill="#000"/>
</svg></body></html>
